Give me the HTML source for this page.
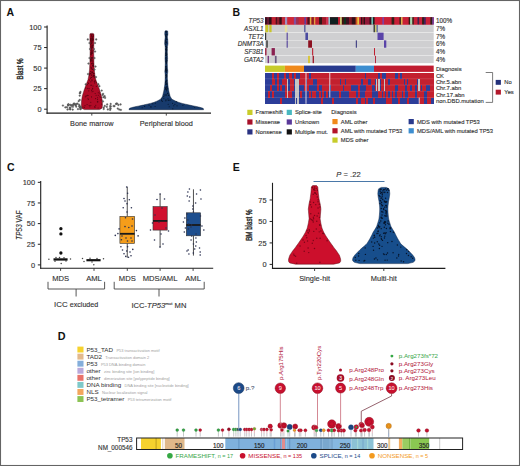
<!DOCTYPE html>
<html><head><meta charset="utf-8"><style>
html,body{margin:0;padding:0;background:#fff;}
svg{display:block;font-family:"Liberation Sans", sans-serif;}
</style></head><body>
<svg width="520" height="466" viewBox="0 0 520 466">
<rect x="0.5" y="0.5" width="519" height="465" fill="#fff" stroke="#646464" stroke-width="1.1"/>
<text x="6.60" y="15.70" font-size="10.5" text-anchor="start" fill="#111" font-weight="bold" font-style="normal" >A</text>
<line x1="47.10" y1="25.50" x2="47.10" y2="113.65" stroke="#1e1e1e" stroke-width="1.1" />
<line x1="46.55" y1="113.10" x2="211.00" y2="113.10" stroke="#1e1e1e" stroke-width="1.1" />
<line x1="44.10" y1="109.20" x2="47.10" y2="109.20" stroke="#222" stroke-width="1.0" />
<text x="41.60" y="111.80" font-size="7.4" text-anchor="end" fill="#333" font-weight="normal" font-style="normal" stroke="#333" stroke-width="0.13" >0</text>
<line x1="44.10" y1="88.65" x2="47.10" y2="88.65" stroke="#222" stroke-width="1.0" />
<text x="41.60" y="91.25" font-size="7.4" text-anchor="end" fill="#333" font-weight="normal" font-style="normal" stroke="#333" stroke-width="0.13" >25</text>
<line x1="44.10" y1="68.10" x2="47.10" y2="68.10" stroke="#222" stroke-width="1.0" />
<text x="41.60" y="70.70" font-size="7.4" text-anchor="end" fill="#333" font-weight="normal" font-style="normal" stroke="#333" stroke-width="0.13" >50</text>
<line x1="44.10" y1="47.55" x2="47.10" y2="47.55" stroke="#222" stroke-width="1.0" />
<text x="41.60" y="50.15" font-size="7.4" text-anchor="end" fill="#333" font-weight="normal" font-style="normal" stroke="#333" stroke-width="0.13" >75</text>
<line x1="44.10" y1="27.00" x2="47.10" y2="27.00" stroke="#222" stroke-width="1.0" />
<text x="41.60" y="29.60" font-size="7.4" text-anchor="end" fill="#333" font-weight="normal" font-style="normal" stroke="#333" stroke-width="0.13" >100</text>
<text x="0.00" y="0.00" font-size="8.6" text-anchor="middle" fill="#333" font-weight="normal" font-style="normal" stroke="#333" stroke-width="0.45" transform="translate(23.0,68.9) rotate(-90) scale(0.72,1)">Blast %</text>
<line x1="91.80" y1="113.10" x2="91.80" y2="115.60" stroke="#333" stroke-width="0.9" />
<text x="91.80" y="126.30" font-size="7.3" text-anchor="middle" fill="#333" font-weight="normal" font-style="normal" stroke="#333" stroke-width="0.13" >Bone marrow</text>
<line x1="166.30" y1="113.10" x2="166.30" y2="115.60" stroke="#333" stroke-width="0.9" />
<text x="166.30" y="126.30" font-size="7.3" text-anchor="middle" fill="#333" font-weight="normal" font-style="normal" stroke="#333" stroke-width="0.13" >Peripheral blood</text>
<path d="M92.90,33.40 L93.85,33.88 L93.92,34.35 L93.94,34.83 L93.97,35.30 L93.99,35.78 L93.99,36.26 L93.98,36.73 L93.97,37.21 L93.96,37.69 L93.95,38.16 L93.93,38.64 L93.92,39.11 L93.91,39.59 L93.90,40.07 L93.89,40.54 L93.87,41.02 L93.86,41.50 L93.85,41.97 L93.84,42.45 L93.83,42.92 L93.81,43.40 L93.80,43.88 L93.80,44.35 L93.79,44.83 L93.78,45.31 L93.78,45.78 L93.77,46.26 L93.77,46.73 L93.76,47.21 L93.75,47.69 L93.75,48.16 L93.74,48.64 L93.74,49.12 L93.73,49.59 L93.72,50.07 L93.72,50.55 L93.71,51.02 L93.71,51.50 L93.70,51.97 L93.71,52.45 L93.72,52.93 L93.73,53.40 L93.74,53.88 L93.75,54.35 L93.76,54.83 L93.77,55.31 L93.78,55.78 L93.79,56.26 L93.79,56.74 L93.80,57.21 L93.81,57.69 L93.82,58.16 L93.83,58.64 L93.84,59.12 L93.85,59.59 L93.86,60.07 L93.87,60.55 L93.88,61.02 L93.89,61.50 L93.90,61.97 L93.92,62.45 L93.95,62.93 L93.97,63.40 L93.99,63.88 L94.02,64.36 L94.04,64.83 L94.07,65.31 L94.09,65.78 L94.11,66.26 L94.14,66.74 L94.16,67.21 L94.18,67.69 L94.21,68.17 L94.23,68.64 L94.26,69.12 L94.28,69.59 L94.31,70.07 L94.37,70.55 L94.42,71.02 L94.48,71.50 L94.54,71.98 L94.59,72.45 L94.65,72.93 L94.71,73.41 L94.77,73.88 L94.82,74.36 L94.88,74.83 L94.96,75.31 L95.05,75.79 L95.14,76.26 L95.23,76.74 L95.32,77.21 L95.42,77.69 L95.51,78.17 L95.60,78.64 L95.69,79.12 L95.78,79.60 L95.95,80.07 L96.13,80.55 L96.32,81.02 L96.51,81.50 L96.69,81.98 L96.88,82.45 L97.06,82.93 L97.24,83.41 L97.42,83.88 L97.60,84.36 L97.78,84.83 L97.96,85.31 L98.14,85.79 L98.32,86.26 L98.50,86.74 L98.67,87.22 L98.84,87.69 L99.00,88.17 L99.16,88.64 L99.32,89.12 L99.48,89.60 L99.64,90.07 L99.81,90.55 L99.97,91.03 L100.13,91.50 L100.29,91.98 L100.45,92.45 L100.59,92.93 L100.73,93.41 L100.87,93.88 L101.01,94.36 L101.15,94.84 L101.30,95.31 L101.44,95.79 L101.54,96.26 L101.62,96.74 L101.70,97.22 L101.78,97.69 L101.85,98.17 L101.93,98.65 L102.01,99.12 L102.09,99.60 L102.17,100.07 L102.24,100.55 L102.31,101.03 L102.33,101.50 L102.35,101.98 L102.38,102.46 L102.40,102.93 L102.42,103.41 L102.45,103.88 L102.47,104.36 L102.49,104.84 L102.46,105.31 L102.41,105.79 L102.35,106.27 L102.29,106.74 L102.23,107.22 L102.07,107.69 L101.74,108.17 L101.41,108.65 L100.53,109.12 L99.40,109.60 L84.40,109.60 L83.27,109.12 L82.39,108.65 L82.06,108.17 L81.73,107.69 L81.57,107.22 L81.51,106.74 L81.45,106.27 L81.39,105.79 L81.34,105.31 L81.31,104.84 L81.33,104.36 L81.35,103.88 L81.38,103.41 L81.40,102.93 L81.42,102.46 L81.45,101.98 L81.47,101.50 L81.49,101.03 L81.56,100.55 L81.63,100.07 L81.71,99.60 L81.79,99.12 L81.87,98.65 L81.95,98.17 L82.02,97.69 L82.10,97.22 L82.18,96.74 L82.26,96.26 L82.36,95.79 L82.50,95.31 L82.65,94.84 L82.79,94.36 L82.93,93.88 L83.07,93.41 L83.21,92.93 L83.35,92.45 L83.51,91.98 L83.67,91.50 L83.83,91.03 L83.99,90.55 L84.16,90.07 L84.32,89.60 L84.48,89.12 L84.64,88.64 L84.80,88.17 L84.96,87.69 L85.13,87.22 L85.30,86.74 L85.48,86.26 L85.66,85.79 L85.84,85.31 L86.02,84.83 L86.20,84.36 L86.38,83.88 L86.56,83.41 L86.74,82.93 L86.92,82.45 L87.11,81.98 L87.29,81.50 L87.48,81.02 L87.67,80.55 L87.85,80.07 L88.02,79.60 L88.11,79.12 L88.20,78.64 L88.29,78.17 L88.38,77.69 L88.48,77.21 L88.57,76.74 L88.66,76.26 L88.75,75.79 L88.84,75.31 L88.92,74.83 L88.98,74.36 L89.03,73.88 L89.09,73.41 L89.15,72.93 L89.21,72.45 L89.26,71.98 L89.32,71.50 L89.38,71.02 L89.43,70.55 L89.49,70.07 L89.52,69.59 L89.54,69.12 L89.57,68.64 L89.59,68.17 L89.62,67.69 L89.64,67.21 L89.66,66.74 L89.69,66.26 L89.71,65.78 L89.73,65.31 L89.76,64.83 L89.78,64.36 L89.81,63.88 L89.83,63.40 L89.85,62.93 L89.88,62.45 L89.90,61.97 L89.91,61.50 L89.92,61.02 L89.93,60.55 L89.94,60.07 L89.95,59.59 L89.96,59.12 L89.97,58.64 L89.98,58.16 L89.99,57.69 L90.00,57.21 L90.01,56.74 L90.01,56.26 L90.02,55.78 L90.03,55.31 L90.04,54.83 L90.05,54.35 L90.06,53.88 L90.07,53.40 L90.08,52.93 L90.09,52.45 L90.10,51.97 L90.09,51.50 L90.09,51.02 L90.08,50.55 L90.08,50.07 L90.07,49.59 L90.06,49.12 L90.06,48.64 L90.05,48.16 L90.05,47.69 L90.04,47.21 L90.03,46.73 L90.03,46.26 L90.02,45.78 L90.02,45.31 L90.01,44.83 L90.00,44.35 L90.00,43.88 L89.99,43.40 L89.97,42.92 L89.96,42.45 L89.95,41.97 L89.94,41.50 L89.93,41.02 L89.91,40.54 L89.90,40.07 L89.89,39.59 L89.88,39.11 L89.87,38.64 L89.85,38.16 L89.84,37.69 L89.83,37.21 L89.82,36.73 L89.81,36.26 L89.81,35.78 L89.83,35.30 L89.86,34.83 L89.88,34.35 L89.95,33.88 L90.90,33.40 Z" fill="#b00a26" stroke="#3b0a12" stroke-width="0.45" stroke-linejoin="round"/>
<path d="M167.10,30.70 L167.57,31.09 L167.72,31.49 L167.75,31.88 L167.78,32.28 L167.81,32.67 L167.83,33.07 L167.86,33.46 L167.89,33.86 L167.86,34.26 L167.79,34.65 L167.73,35.05 L167.66,35.44 L167.59,35.84 L167.53,36.23 L167.46,36.62 L167.40,37.02 L167.45,37.41 L167.50,37.81 L167.54,38.20 L167.59,38.60 L167.63,38.99 L167.68,39.39 L167.73,39.78 L167.77,40.18 L167.81,40.58 L167.84,40.97 L167.86,41.36 L167.89,41.76 L167.91,42.16 L167.93,42.55 L167.96,42.95 L167.98,43.34 L167.98,43.73 L167.91,44.13 L167.84,44.52 L167.77,44.92 L167.70,45.31 L167.63,45.71 L167.56,46.10 L167.49,46.50 L167.42,46.89 L167.39,47.29 L167.39,47.69 L167.38,48.08 L167.37,48.47 L167.36,48.87 L167.35,49.27 L167.35,49.66 L167.34,50.05 L167.33,50.45 L167.32,50.84 L167.32,51.24 L167.31,51.63 L167.30,52.03 L167.32,52.42 L167.34,52.82 L167.36,53.22 L167.37,53.61 L167.39,54.00 L167.41,54.40 L167.43,54.80 L167.45,55.19 L167.46,55.59 L167.48,55.98 L167.50,56.38 L167.52,56.77 L167.53,57.16 L167.55,57.56 L167.57,57.95 L167.59,58.35 L167.59,58.75 L167.56,59.14 L167.54,59.53 L167.51,59.93 L167.48,60.33 L167.46,60.72 L167.43,61.11 L167.40,61.51 L167.37,61.91 L167.35,62.30 L167.32,62.70 L167.30,63.09 L167.32,63.48 L167.34,63.88 L167.35,64.28 L167.37,64.67 L167.38,65.06 L167.40,65.46 L167.41,65.86 L167.43,66.25 L167.45,66.64 L167.46,67.04 L167.48,67.44 L167.49,67.83 L167.52,68.22 L167.55,68.62 L167.59,69.02 L167.62,69.41 L167.65,69.80 L167.69,70.20 L167.72,70.59 L167.76,70.99 L167.79,71.39 L167.77,71.78 L167.72,72.17 L167.68,72.57 L167.63,72.97 L167.59,73.36 L167.54,73.75 L167.50,74.15 L167.45,74.55 L167.41,74.94 L167.40,75.33 L167.40,75.73 L167.40,76.12 L167.40,76.52 L167.40,76.92 L167.40,77.31 L167.40,77.70 L167.41,78.10 L167.43,78.50 L167.46,78.89 L167.48,79.28 L167.51,79.68 L167.53,80.08 L167.55,80.47 L167.58,80.86 L167.60,81.26 L167.63,81.66 L167.65,82.05 L167.68,82.44 L167.70,82.84 L167.73,83.23 L167.75,83.63 L167.78,84.03 L167.80,84.42 L167.86,84.81 L167.91,85.21 L167.97,85.61 L168.02,86.00 L168.08,86.39 L168.13,86.79 L168.19,87.19 L168.24,87.58 L168.30,87.97 L168.37,88.37 L168.44,88.77 L168.51,89.16 L168.58,89.55 L168.65,89.95 L168.72,90.34 L168.79,90.74 L168.87,91.14 L168.96,91.53 L169.05,91.92 L169.14,92.32 L169.23,92.72 L169.31,93.11 L169.40,93.50 L169.50,93.90 L169.61,94.30 L169.71,94.69 L169.81,95.09 L169.91,95.48 L170.02,95.88 L170.14,96.27 L170.36,96.67 L170.58,97.06 L170.80,97.45 L171.02,97.85 L171.31,98.25 L171.65,98.64 L171.99,99.03 L172.36,99.43 L173.10,99.83 L173.84,100.22 L174.58,100.62 L175.33,101.01 L176.31,101.41 L177.30,101.80 L178.29,102.20 L179.28,102.59 L180.74,102.98 L182.23,103.38 L183.71,103.78 L185.47,104.17 L187.24,104.56 L189.03,104.96 L190.82,105.36 L192.62,105.75 L194.52,106.14 L196.50,106.54 L198.43,106.94 L199.91,107.33 L201.37,107.73 L202.50,108.12 L203.33,108.52 L203.42,108.91 L203.51,109.31 L203.60,109.70 L129.00,109.70 L129.09,109.31 L129.18,108.91 L129.27,108.52 L130.10,108.12 L131.23,107.73 L132.69,107.33 L134.17,106.94 L136.10,106.54 L138.08,106.14 L139.98,105.75 L141.78,105.36 L143.57,104.96 L145.36,104.56 L147.13,104.17 L148.89,103.78 L150.37,103.38 L151.86,102.98 L153.32,102.59 L154.31,102.20 L155.30,101.80 L156.29,101.41 L157.28,101.01 L158.02,100.62 L158.76,100.22 L159.50,99.83 L160.24,99.43 L160.61,99.03 L160.95,98.64 L161.29,98.25 L161.58,97.85 L161.80,97.45 L162.02,97.06 L162.24,96.67 L162.46,96.27 L162.58,95.88 L162.69,95.48 L162.79,95.09 L162.89,94.69 L162.99,94.30 L163.10,93.90 L163.20,93.50 L163.29,93.11 L163.37,92.72 L163.46,92.32 L163.55,91.92 L163.64,91.53 L163.73,91.14 L163.81,90.74 L163.88,90.34 L163.95,89.95 L164.02,89.55 L164.09,89.16 L164.16,88.77 L164.23,88.37 L164.30,87.97 L164.36,87.58 L164.41,87.19 L164.47,86.79 L164.52,86.39 L164.58,86.00 L164.63,85.61 L164.69,85.21 L164.74,84.81 L164.80,84.42 L164.82,84.03 L164.85,83.63 L164.87,83.23 L164.90,82.84 L164.92,82.44 L164.95,82.05 L164.97,81.66 L165.00,81.26 L165.02,80.86 L165.05,80.47 L165.07,80.08 L165.09,79.68 L165.12,79.28 L165.14,78.89 L165.17,78.50 L165.19,78.10 L165.20,77.70 L165.20,77.31 L165.20,76.92 L165.20,76.52 L165.20,76.12 L165.20,75.73 L165.20,75.33 L165.19,74.94 L165.15,74.55 L165.10,74.15 L165.06,73.75 L165.01,73.36 L164.97,72.97 L164.92,72.57 L164.88,72.17 L164.83,71.78 L164.81,71.39 L164.84,70.99 L164.88,70.59 L164.91,70.20 L164.95,69.80 L164.98,69.41 L165.01,69.02 L165.05,68.62 L165.08,68.22 L165.11,67.83 L165.12,67.44 L165.14,67.04 L165.15,66.64 L165.17,66.25 L165.19,65.86 L165.20,65.46 L165.22,65.06 L165.23,64.67 L165.25,64.28 L165.26,63.88 L165.28,63.48 L165.30,63.09 L165.28,62.70 L165.25,62.30 L165.23,61.91 L165.20,61.51 L165.17,61.11 L165.14,60.72 L165.12,60.33 L165.09,59.93 L165.06,59.53 L165.04,59.14 L165.01,58.75 L165.01,58.35 L165.03,57.95 L165.05,57.56 L165.07,57.16 L165.08,56.77 L165.10,56.38 L165.12,55.98 L165.14,55.59 L165.16,55.19 L165.17,54.80 L165.19,54.40 L165.21,54.00 L165.23,53.61 L165.24,53.22 L165.26,52.82 L165.28,52.42 L165.30,52.03 L165.29,51.63 L165.28,51.24 L165.28,50.84 L165.27,50.45 L165.26,50.05 L165.25,49.66 L165.25,49.27 L165.24,48.87 L165.23,48.47 L165.22,48.08 L165.21,47.69 L165.21,47.29 L165.18,46.89 L165.11,46.50 L165.04,46.10 L164.97,45.71 L164.90,45.31 L164.83,44.92 L164.76,44.52 L164.69,44.13 L164.62,43.73 L164.62,43.34 L164.64,42.95 L164.67,42.55 L164.69,42.16 L164.72,41.76 L164.74,41.36 L164.76,40.97 L164.79,40.58 L164.83,40.18 L164.87,39.78 L164.92,39.39 L164.97,38.99 L165.01,38.60 L165.06,38.20 L165.10,37.81 L165.15,37.41 L165.20,37.02 L165.14,36.62 L165.07,36.23 L165.01,35.84 L164.94,35.44 L164.87,35.05 L164.81,34.65 L164.74,34.26 L164.71,33.86 L164.74,33.46 L164.77,33.07 L164.79,32.67 L164.82,32.28 L164.85,31.88 L164.88,31.49 L165.03,31.09 L165.50,30.70 Z" fill="#173a6c" stroke="#081a34" stroke-width="0.45" stroke-linejoin="round"/>
<circle cx="90.97" cy="58.36" r="0.55" fill="#560512" />
<circle cx="88.05" cy="82.76" r="0.55" fill="#560512" />
<circle cx="91.28" cy="74.18" r="0.55" fill="#560512" />
<circle cx="91.92" cy="38.53" r="0.55" fill="#560512" />
<circle cx="91.70" cy="37.00" r="0.55" fill="#560512" />
<circle cx="90.74" cy="39.41" r="0.55" fill="#560512" />
<circle cx="92.94" cy="65.87" r="0.55" fill="#560512" />
<circle cx="91.17" cy="43.44" r="0.55" fill="#560512" />
<circle cx="95.31" cy="81.01" r="0.55" fill="#560512" />
<circle cx="91.31" cy="77.25" r="0.55" fill="#560512" />
<circle cx="83.05" cy="107.03" r="0.55" fill="#560512" />
<circle cx="87.96" cy="98.24" r="0.55" fill="#560512" />
<circle cx="90.92" cy="44.96" r="0.55" fill="#560512" />
<circle cx="92.72" cy="57.21" r="0.55" fill="#560512" />
<circle cx="92.10" cy="47.68" r="0.55" fill="#560512" />
<circle cx="90.84" cy="81.86" r="0.55" fill="#560512" />
<circle cx="89.79" cy="75.06" r="0.55" fill="#560512" />
<circle cx="91.06" cy="38.65" r="0.55" fill="#560512" />
<circle cx="91.13" cy="84.96" r="0.55" fill="#560512" />
<circle cx="92.12" cy="57.64" r="0.55" fill="#560512" />
<circle cx="91.22" cy="68.01" r="0.55" fill="#560512" />
<circle cx="95.18" cy="93.46" r="0.55" fill="#560512" />
<circle cx="92.08" cy="52.41" r="0.55" fill="#560512" />
<circle cx="93.55" cy="73.38" r="0.55" fill="#560512" />
<circle cx="89.08" cy="88.62" r="0.55" fill="#560512" />
<circle cx="84.47" cy="107.32" r="0.55" fill="#560512" />
<circle cx="92.71" cy="65.39" r="0.55" fill="#560512" />
<circle cx="91.87" cy="45.54" r="0.55" fill="#560512" />
<circle cx="92.40" cy="37.12" r="0.55" fill="#560512" />
<circle cx="93.00" cy="91.24" r="0.55" fill="#560512" />
<circle cx="88.33" cy="99.51" r="0.55" fill="#560512" />
<circle cx="92.98" cy="86.07" r="0.55" fill="#560512" />
<circle cx="91.65" cy="77.46" r="0.55" fill="#560512" />
<circle cx="100.03" cy="96.86" r="0.55" fill="#560512" />
<circle cx="92.48" cy="69.57" r="0.55" fill="#560512" />
<circle cx="92.48" cy="38.73" r="0.55" fill="#560512" />
<circle cx="96.23" cy="82.48" r="0.55" fill="#560512" />
<circle cx="88.08" cy="95.52" r="0.55" fill="#560512" />
<circle cx="92.39" cy="62.98" r="0.55" fill="#560512" />
<circle cx="91.79" cy="35.88" r="0.55" fill="#560512" />
<circle cx="90.93" cy="46.74" r="0.55" fill="#560512" />
<circle cx="92.67" cy="38.60" r="0.55" fill="#560512" />
<circle cx="91.24" cy="43.85" r="0.55" fill="#560512" />
<circle cx="92.99" cy="63.36" r="0.55" fill="#560512" />
<circle cx="91.76" cy="40.21" r="0.55" fill="#560512" />
<circle cx="93.77" cy="75.19" r="0.55" fill="#560512" />
<circle cx="98.30" cy="95.32" r="0.55" fill="#560512" />
<circle cx="91.69" cy="54.97" r="0.55" fill="#560512" />
<circle cx="92.96" cy="60.96" r="0.55" fill="#560512" />
<circle cx="84.97" cy="105.65" r="0.55" fill="#560512" />
<circle cx="91.23" cy="47.35" r="0.55" fill="#560512" />
<circle cx="91.86" cy="51.61" r="0.55" fill="#560512" />
<circle cx="90.48" cy="78.15" r="0.55" fill="#560512" />
<circle cx="91.67" cy="34.51" r="0.55" fill="#560512" />
<circle cx="92.09" cy="61.75" r="0.55" fill="#560512" />
<circle cx="95.70" cy="105.30" r="0.55" fill="#560512" />
<circle cx="92.40" cy="72.66" r="0.55" fill="#560512" />
<circle cx="87.25" cy="84.64" r="0.55" fill="#560512" />
<circle cx="97.40" cy="101.31" r="0.55" fill="#560512" />
<circle cx="97.60" cy="99.44" r="0.55" fill="#560512" />
<circle cx="91.60" cy="63.47" r="0.55" fill="#560512" />
<circle cx="92.26" cy="41.92" r="0.55" fill="#560512" />
<circle cx="90.66" cy="38.84" r="0.55" fill="#560512" />
<circle cx="91.07" cy="49.77" r="0.55" fill="#560512" />
<circle cx="90.69" cy="59.57" r="0.55" fill="#560512" />
<circle cx="90.91" cy="34.22" r="0.55" fill="#560512" />
<circle cx="91.53" cy="41.77" r="0.55" fill="#560512" />
<circle cx="93.02" cy="36.10" r="0.55" fill="#560512" />
<circle cx="89.49" cy="80.01" r="0.55" fill="#560512" />
<circle cx="91.53" cy="53.02" r="0.55" fill="#560512" />
<circle cx="90.85" cy="61.37" r="0.55" fill="#560512" />
<circle cx="101.02" cy="97.53" r="0.55" fill="#560512" />
<circle cx="91.84" cy="68.96" r="0.55" fill="#560512" />
<circle cx="90.80" cy="40.61" r="0.55" fill="#560512" />
<circle cx="91.26" cy="59.76" r="0.55" fill="#560512" />
<circle cx="85.80" cy="96.03" r="0.55" fill="#560512" />
<circle cx="93.25" cy="35.92" r="0.55" fill="#560512" />
<circle cx="90.32" cy="73.61" r="0.55" fill="#560512" />
<circle cx="89.66" cy="74.72" r="0.55" fill="#560512" />
<circle cx="94.04" cy="73.60" r="0.55" fill="#560512" />
<circle cx="95.60" cy="98.60" r="0.55" fill="#560512" />
<circle cx="91.57" cy="53.68" r="0.55" fill="#560512" />
<circle cx="92.59" cy="46.66" r="0.55" fill="#560512" />
<circle cx="93.17" cy="73.93" r="0.55" fill="#560512" />
<circle cx="91.16" cy="58.79" r="0.55" fill="#560512" />
<circle cx="100.27" cy="94.74" r="0.55" fill="#560512" />
<circle cx="97.59" cy="97.81" r="0.55" fill="#560512" />
<circle cx="96.11" cy="95.25" r="0.55" fill="#560512" />
<circle cx="91.94" cy="51.11" r="0.55" fill="#560512" />
<circle cx="90.61" cy="60.72" r="0.55" fill="#560512" />
<circle cx="91.24" cy="36.28" r="0.55" fill="#560512" />
<circle cx="92.37" cy="53.53" r="0.55" fill="#560512" />
<circle cx="90.85" cy="105.56" r="0.55" fill="#560512" />
<circle cx="101.62" cy="104.10" r="0.55" fill="#560512" />
<circle cx="89.21" cy="105.44" r="0.55" fill="#560512" />
<circle cx="91.24" cy="50.65" r="0.55" fill="#560512" />
<circle cx="91.17" cy="48.87" r="0.55" fill="#560512" />
<circle cx="94.87" cy="80.76" r="0.55" fill="#560512" />
<circle cx="91.52" cy="96.90" r="0.55" fill="#560512" />
<circle cx="94.63" cy="82.91" r="0.55" fill="#560512" />
<circle cx="92.35" cy="40.52" r="0.55" fill="#560512" />
<circle cx="97.47" cy="102.07" r="0.55" fill="#560512" />
<circle cx="91.58" cy="90.16" r="0.55" fill="#560512" />
<circle cx="92.63" cy="47.52" r="0.55" fill="#560512" />
<circle cx="92.71" cy="59.01" r="0.55" fill="#560512" />
<circle cx="89.86" cy="106.69" r="0.55" fill="#560512" />
<circle cx="93.25" cy="64.14" r="0.55" fill="#560512" />
<circle cx="87.59" cy="88.27" r="0.55" fill="#560512" />
<circle cx="90.99" cy="43.68" r="0.55" fill="#560512" />
<circle cx="97.93" cy="101.70" r="0.55" fill="#560512" />
<circle cx="92.74" cy="45.10" r="0.55" fill="#560512" />
<circle cx="94.96" cy="107.33" r="0.55" fill="#560512" />
<circle cx="92.03" cy="60.34" r="0.55" fill="#560512" />
<circle cx="90.64" cy="43.97" r="0.55" fill="#560512" />
<circle cx="94.83" cy="106.63" r="0.55" fill="#560512" />
<circle cx="93.82" cy="73.48" r="0.55" fill="#560512" />
<circle cx="93.11" cy="66.56" r="0.55" fill="#560512" />
<circle cx="86.73" cy="95.83" r="0.55" fill="#560512" />
<circle cx="91.39" cy="52.99" r="0.55" fill="#560512" />
<circle cx="92.11" cy="52.14" r="0.55" fill="#560512" />
<circle cx="91.70" cy="53.55" r="0.55" fill="#560512" />
<circle cx="92.97" cy="43.98" r="0.55" fill="#560512" />
<circle cx="91.79" cy="60.59" r="0.55" fill="#560512" />
<circle cx="94.26" cy="77.72" r="0.55" fill="#560512" />
<circle cx="93.22" cy="65.58" r="0.55" fill="#560512" />
<circle cx="92.03" cy="71.62" r="0.55" fill="#560512" />
<circle cx="89.79" cy="73.25" r="0.55" fill="#560512" />
<circle cx="90.85" cy="67.03" r="0.55" fill="#560512" />
<circle cx="92.75" cy="34.49" r="0.55" fill="#560512" />
<circle cx="91.83" cy="47.06" r="0.55" fill="#560512" />
<circle cx="92.64" cy="88.30" r="0.55" fill="#560512" />
<circle cx="91.95" cy="58.52" r="0.55" fill="#560512" />
<circle cx="93.33" cy="75.64" r="0.55" fill="#560512" />
<circle cx="92.06" cy="42.12" r="0.55" fill="#560512" />
<circle cx="91.36" cy="52.74" r="0.55" fill="#560512" />
<circle cx="92.02" cy="91.81" r="0.55" fill="#560512" />
<circle cx="93.26" cy="76.11" r="0.55" fill="#560512" />
<circle cx="90.78" cy="102.27" r="0.55" fill="#560512" />
<circle cx="91.94" cy="79.89" r="0.55" fill="#560512" />
<circle cx="92.71" cy="72.41" r="0.55" fill="#560512" />
<circle cx="92.01" cy="67.94" r="0.55" fill="#560512" />
<circle cx="93.48" cy="69.86" r="0.55" fill="#560512" />
<circle cx="96.31" cy="86.36" r="0.55" fill="#560512" />
<circle cx="87.10" cy="104.49" r="0.55" fill="#560512" />
<circle cx="94.19" cy="75.94" r="0.55" fill="#560512" />
<circle cx="85.27" cy="96.86" r="0.55" fill="#560512" />
<circle cx="91.75" cy="43.27" r="0.55" fill="#560512" />
<circle cx="91.17" cy="39.61" r="0.55" fill="#560512" />
<circle cx="92.38" cy="39.65" r="0.55" fill="#560512" />
<circle cx="98.26" cy="92.68" r="0.55" fill="#560512" />
<circle cx="92.45" cy="45.72" r="0.55" fill="#560512" />
<circle cx="88.50" cy="83.46" r="0.55" fill="#560512" />
<circle cx="100.94" cy="100.06" r="0.55" fill="#560512" />
<circle cx="93.00" cy="50.58" r="0.55" fill="#560512" />
<circle cx="91.86" cy="63.91" r="0.55" fill="#560512" />
<circle cx="98.10" cy="108.04" r="0.55" fill="#560512" />
<circle cx="91.73" cy="46.25" r="0.55" fill="#560512" />
<circle cx="91.22" cy="72.66" r="0.55" fill="#560512" />
<circle cx="91.45" cy="48.80" r="0.55" fill="#560512" />
<circle cx="85.69" cy="88.07" r="0.55" fill="#560512" />
<circle cx="91.60" cy="75.53" r="0.55" fill="#560512" />
<circle cx="91.40" cy="35.55" r="0.55" fill="#560512" />
<circle cx="91.99" cy="80.74" r="0.55" fill="#560512" />
<circle cx="93.28" cy="39.00" r="0.55" fill="#560512" />
<circle cx="99.55" cy="93.01" r="0.55" fill="#560512" />
<circle cx="91.27" cy="42.02" r="0.55" fill="#560512" />
<circle cx="92.72" cy="37.15" r="0.55" fill="#560512" />
<circle cx="90.98" cy="54.38" r="0.55" fill="#560512" />
<circle cx="93.20" cy="65.70" r="0.55" fill="#560512" />
<circle cx="87.66" cy="95.30" r="0.55" fill="#560512" />
<circle cx="92.98" cy="45.34" r="0.55" fill="#560512" />
<circle cx="93.00" cy="76.77" r="0.55" fill="#560512" />
<circle cx="90.68" cy="40.87" r="0.55" fill="#560512" />
<circle cx="91.07" cy="85.54" r="0.55" fill="#560512" />
<circle cx="93.14" cy="39.60" r="0.55" fill="#560512" />
<circle cx="94.32" cy="81.53" r="0.55" fill="#560512" />
<circle cx="92.89" cy="40.45" r="0.55" fill="#560512" />
<circle cx="92.93" cy="39.17" r="0.55" fill="#560512" />
<circle cx="91.35" cy="68.05" r="0.55" fill="#560512" />
<circle cx="94.02" cy="75.46" r="0.55" fill="#560512" />
<circle cx="90.98" cy="54.18" r="0.55" fill="#560512" />
<circle cx="90.74" cy="73.51" r="0.55" fill="#560512" />
<circle cx="90.99" cy="42.37" r="0.55" fill="#560512" />
<circle cx="91.03" cy="37.96" r="0.55" fill="#560512" />
<circle cx="91.39" cy="57.47" r="0.55" fill="#560512" />
<circle cx="88.79" cy="90.86" r="0.55" fill="#560512" />
<circle cx="90.62" cy="71.51" r="0.55" fill="#560512" />
<circle cx="90.59" cy="60.09" r="0.55" fill="#560512" />
<circle cx="90.72" cy="52.88" r="0.55" fill="#560512" />
<circle cx="92.59" cy="88.89" r="0.55" fill="#560512" />
<circle cx="166.27" cy="46.16" r="0.55" fill="#06162c" />
<circle cx="152.85" cy="103.84" r="0.55" fill="#06162c" />
<circle cx="165.91" cy="94.88" r="0.55" fill="#06162c" />
<circle cx="166.81" cy="69.81" r="0.55" fill="#06162c" />
<circle cx="166.31" cy="61.92" r="0.55" fill="#06162c" />
<circle cx="167.21" cy="84.73" r="0.55" fill="#06162c" />
<circle cx="166.75" cy="58.03" r="0.55" fill="#06162c" />
<circle cx="166.61" cy="86.20" r="0.55" fill="#06162c" />
<circle cx="166.17" cy="62.82" r="0.55" fill="#06162c" />
<circle cx="165.77" cy="35.71" r="0.55" fill="#06162c" />
<circle cx="166.54" cy="36.97" r="0.55" fill="#06162c" />
<circle cx="166.02" cy="51.28" r="0.55" fill="#06162c" />
<circle cx="166.72" cy="38.04" r="0.55" fill="#06162c" />
<circle cx="167.99" cy="98.88" r="0.55" fill="#06162c" />
<circle cx="166.06" cy="53.32" r="0.55" fill="#06162c" />
<circle cx="166.26" cy="54.18" r="0.55" fill="#06162c" />
<circle cx="166.18" cy="43.69" r="0.55" fill="#06162c" />
<circle cx="166.67" cy="51.88" r="0.55" fill="#06162c" />
<circle cx="169.20" cy="106.78" r="0.55" fill="#06162c" />
<circle cx="166.70" cy="50.42" r="0.55" fill="#06162c" />
<circle cx="166.14" cy="55.46" r="0.55" fill="#06162c" />
<circle cx="166.10" cy="31.58" r="0.55" fill="#06162c" />
<circle cx="166.30" cy="68.24" r="0.55" fill="#06162c" />
<circle cx="166.30" cy="47.06" r="0.55" fill="#06162c" />
<circle cx="165.90" cy="31.88" r="0.55" fill="#06162c" />
<circle cx="166.17" cy="38.45" r="0.55" fill="#06162c" />
<circle cx="165.46" cy="34.73" r="0.55" fill="#06162c" />
<circle cx="166.01" cy="55.05" r="0.55" fill="#06162c" />
<circle cx="166.33" cy="76.82" r="0.55" fill="#06162c" />
<circle cx="166.83" cy="89.59" r="0.55" fill="#06162c" />
<circle cx="167.25" cy="86.92" r="0.55" fill="#06162c" />
<circle cx="166.13" cy="61.65" r="0.55" fill="#06162c" />
<circle cx="142.15" cy="107.72" r="0.55" fill="#06162c" />
<circle cx="166.68" cy="87.55" r="0.55" fill="#06162c" />
<circle cx="166.87" cy="34.89" r="0.55" fill="#06162c" />
<circle cx="168.22" cy="100.54" r="0.55" fill="#06162c" />
<circle cx="167.21" cy="88.30" r="0.55" fill="#06162c" />
<circle cx="166.35" cy="42.28" r="0.55" fill="#06162c" />
<circle cx="166.85" cy="70.54" r="0.55" fill="#06162c" />
<circle cx="167.98" cy="93.78" r="0.55" fill="#06162c" />
<circle cx="166.69" cy="76.71" r="0.55" fill="#06162c" />
<circle cx="166.65" cy="84.36" r="0.55" fill="#06162c" />
<circle cx="165.87" cy="49.30" r="0.55" fill="#06162c" />
<circle cx="166.02" cy="41.80" r="0.55" fill="#06162c" />
<circle cx="166.84" cy="39.62" r="0.55" fill="#06162c" />
<circle cx="166.44" cy="74.73" r="0.55" fill="#06162c" />
<circle cx="166.53" cy="79.97" r="0.55" fill="#06162c" />
<circle cx="165.59" cy="69.37" r="0.55" fill="#06162c" />
<circle cx="167.51" cy="93.24" r="0.55" fill="#06162c" />
<circle cx="166.36" cy="70.43" r="0.55" fill="#06162c" />
<circle cx="165.62" cy="82.53" r="0.55" fill="#06162c" />
<circle cx="165.56" cy="88.53" r="0.55" fill="#06162c" />
<circle cx="166.05" cy="37.26" r="0.55" fill="#06162c" />
<circle cx="165.48" cy="87.95" r="0.55" fill="#06162c" />
<circle cx="167.76" cy="88.76" r="0.55" fill="#06162c" />
<circle cx="166.12" cy="69.73" r="0.55" fill="#06162c" />
<circle cx="166.54" cy="68.58" r="0.55" fill="#06162c" />
<circle cx="166.75" cy="90.86" r="0.55" fill="#06162c" />
<circle cx="165.71" cy="81.25" r="0.55" fill="#06162c" />
<circle cx="165.78" cy="42.91" r="0.55" fill="#06162c" />
<circle cx="165.68" cy="89.03" r="0.55" fill="#06162c" />
<circle cx="165.81" cy="75.44" r="0.55" fill="#06162c" />
<circle cx="166.01" cy="36.20" r="0.55" fill="#06162c" />
<circle cx="166.62" cy="83.51" r="0.55" fill="#06162c" />
<circle cx="165.94" cy="83.80" r="0.55" fill="#06162c" />
<circle cx="166.24" cy="71.48" r="0.55" fill="#06162c" />
<circle cx="165.85" cy="67.59" r="0.55" fill="#06162c" />
<circle cx="161.62" cy="100.67" r="0.55" fill="#06162c" />
<circle cx="194.70" cy="107.21" r="0.55" fill="#06162c" />
<circle cx="166.22" cy="32.85" r="0.55" fill="#06162c" />
<circle cx="168.99" cy="94.96" r="0.55" fill="#06162c" />
<circle cx="166.05" cy="66.29" r="0.55" fill="#06162c" />
<circle cx="166.73" cy="47.74" r="0.55" fill="#06162c" />
<circle cx="166.38" cy="47.81" r="0.55" fill="#06162c" />
<circle cx="166.35" cy="42.47" r="0.55" fill="#06162c" />
<circle cx="149.10" cy="105.24" r="0.55" fill="#06162c" />
<circle cx="166.35" cy="94.98" r="0.55" fill="#06162c" />
<circle cx="169.06" cy="100.14" r="0.55" fill="#06162c" />
<circle cx="166.66" cy="49.41" r="0.55" fill="#06162c" />
<circle cx="165.64" cy="69.13" r="0.55" fill="#06162c" />
<circle cx="166.29" cy="31.78" r="0.55" fill="#06162c" />
<circle cx="166.09" cy="66.39" r="0.55" fill="#06162c" />
<circle cx="165.98" cy="42.39" r="0.55" fill="#06162c" />
<circle cx="166.69" cy="55.96" r="0.55" fill="#06162c" />
<circle cx="166.72" cy="31.63" r="0.55" fill="#06162c" />
<circle cx="163.76" cy="96.45" r="0.55" fill="#06162c" />
<circle cx="172.55" cy="103.20" r="0.55" fill="#06162c" />
<circle cx="162.47" cy="101.28" r="0.55" fill="#06162c" />
<circle cx="166.18" cy="60.31" r="0.55" fill="#06162c" />
<circle cx="172.81" cy="108.81" r="0.55" fill="#06162c" />
<circle cx="166.21" cy="59.42" r="0.55" fill="#06162c" />
<circle cx="165.91" cy="52.80" r="0.55" fill="#06162c" />
<circle cx="166.82" cy="39.37" r="0.55" fill="#06162c" />
<circle cx="166.71" cy="53.61" r="0.55" fill="#06162c" />
<circle cx="166.10" cy="50.80" r="0.55" fill="#06162c" />
<circle cx="165.77" cy="71.05" r="0.55" fill="#06162c" />
<circle cx="166.83" cy="60.40" r="0.55" fill="#06162c" />
<circle cx="170.30" cy="99.94" r="0.55" fill="#06162c" />
<circle cx="166.83" cy="80.33" r="0.55" fill="#06162c" />
<circle cx="168.19" cy="104.31" r="0.55" fill="#06162c" />
<circle cx="165.14" cy="87.19" r="0.55" fill="#06162c" />
<circle cx="166.16" cy="88.18" r="0.55" fill="#06162c" />
<circle cx="166.80" cy="89.76" r="0.55" fill="#06162c" />
<circle cx="165.87" cy="53.65" r="0.55" fill="#06162c" />
<circle cx="155.29" cy="103.23" r="0.55" fill="#06162c" />
<circle cx="166.11" cy="68.05" r="0.55" fill="#06162c" />
<circle cx="166.55" cy="54.55" r="0.55" fill="#06162c" />
<circle cx="150.94" cy="107.07" r="0.55" fill="#06162c" />
<circle cx="165.99" cy="82.27" r="0.55" fill="#06162c" />
<circle cx="166.19" cy="74.64" r="0.55" fill="#06162c" />
<circle cx="165.66" cy="44.45" r="0.55" fill="#06162c" />
<circle cx="166.70" cy="47.59" r="0.55" fill="#06162c" />
<circle cx="165.87" cy="69.97" r="0.55" fill="#06162c" />
<circle cx="176.24" cy="101.64" r="0.55" fill="#06162c" />
<circle cx="165.92" cy="66.33" r="0.55" fill="#06162c" />
<circle cx="165.80" cy="46.39" r="0.55" fill="#06162c" />
<circle cx="165.75" cy="57.97" r="0.55" fill="#06162c" />
<circle cx="166.09" cy="50.01" r="0.55" fill="#06162c" />
<circle cx="166.69" cy="75.59" r="0.55" fill="#06162c" />
<circle cx="166.01" cy="89.52" r="0.55" fill="#06162c" />
<circle cx="166.32" cy="63.53" r="0.55" fill="#06162c" />
<circle cx="166.12" cy="60.67" r="0.55" fill="#06162c" />
<circle cx="166.03" cy="36.30" r="0.55" fill="#06162c" />
<circle cx="144.68" cy="106.40" r="0.55" fill="#06162c" />
<circle cx="166.51" cy="70.46" r="0.55" fill="#06162c" />
<circle cx="163.78" cy="98.29" r="0.55" fill="#06162c" />
<circle cx="166.09" cy="52.48" r="0.55" fill="#06162c" />
<circle cx="166.25" cy="62.44" r="0.55" fill="#06162c" />
<circle cx="182.92" cy="105.34" r="0.55" fill="#06162c" />
<circle cx="161.41" cy="99.06" r="0.55" fill="#06162c" />
<circle cx="166.72" cy="34.00" r="0.55" fill="#06162c" />
<circle cx="165.87" cy="100.83" r="0.55" fill="#06162c" />
<circle cx="165.80" cy="76.95" r="0.55" fill="#06162c" />
<circle cx="166.71" cy="61.80" r="0.55" fill="#06162c" />
<circle cx="168.43" cy="95.40" r="0.55" fill="#06162c" />
<circle cx="150.88" cy="106.75" r="0.55" fill="#06162c" />
<circle cx="165.72" cy="39.94" r="0.55" fill="#06162c" />
<circle cx="166.61" cy="71.93" r="0.55" fill="#06162c" />
<circle cx="174.93" cy="104.37" r="0.55" fill="#06162c" />
<circle cx="166.68" cy="81.60" r="0.55" fill="#06162c" />
<circle cx="166.36" cy="66.90" r="0.55" fill="#06162c" />
<circle cx="166.81" cy="34.56" r="0.55" fill="#06162c" />
<circle cx="166.68" cy="49.50" r="0.55" fill="#06162c" />
<circle cx="166.02" cy="81.46" r="0.55" fill="#06162c" />
<circle cx="165.82" cy="41.40" r="0.55" fill="#06162c" />
<circle cx="166.57" cy="80.75" r="0.55" fill="#06162c" />
<circle cx="165.55" cy="40.18" r="0.55" fill="#06162c" />
<circle cx="166.44" cy="72.09" r="0.55" fill="#06162c" />
<circle cx="166.02" cy="61.54" r="0.55" fill="#06162c" />
<circle cx="165.81" cy="78.02" r="0.55" fill="#06162c" />
<circle cx="166.26" cy="54.84" r="0.55" fill="#06162c" />
<circle cx="173.70" cy="105.72" r="0.55" fill="#06162c" />
<circle cx="165.99" cy="99.90" r="0.55" fill="#06162c" />
<circle cx="166.07" cy="49.67" r="0.55" fill="#06162c" />
<circle cx="177.02" cy="105.85" r="0.55" fill="#06162c" />
<circle cx="165.77" cy="55.29" r="0.55" fill="#06162c" />
<circle cx="166.57" cy="70.07" r="0.55" fill="#06162c" />
<circle cx="166.09" cy="64.01" r="0.55" fill="#06162c" />
<circle cx="167.00" cy="83.15" r="0.55" fill="#06162c" />
<circle cx="165.87" cy="49.05" r="0.55" fill="#06162c" />
<circle cx="166.20" cy="57.67" r="0.55" fill="#06162c" />
<circle cx="165.76" cy="84.33" r="0.55" fill="#06162c" />
<circle cx="167.46" cy="93.19" r="0.55" fill="#06162c" />
<circle cx="165.82" cy="70.58" r="0.55" fill="#06162c" />
<circle cx="155.10" cy="106.57" r="0.55" fill="#06162c" />
<circle cx="164.75" cy="94.97" r="0.55" fill="#06162c" />
<circle cx="166.54" cy="48.64" r="0.55" fill="#06162c" />
<circle cx="166.76" cy="54.33" r="0.55" fill="#06162c" />
<circle cx="165.82" cy="69.87" r="0.55" fill="#06162c" />
<circle cx="166.22" cy="48.79" r="0.55" fill="#06162c" />
<circle cx="110.76" cy="106.44" r="0.85" fill="#6a6a6a" stroke="#3a3a3a" stroke-width="0.3"/>
<circle cx="77.98" cy="109.06" r="0.85" fill="#6a6a6a" stroke="#3a3a3a" stroke-width="0.3"/>
<circle cx="79.66" cy="106.83" r="0.85" fill="#6a6a6a" stroke="#3a3a3a" stroke-width="0.3"/>
<circle cx="71.43" cy="105.47" r="0.85" fill="#6a6a6a" stroke="#3a3a3a" stroke-width="0.3"/>
<circle cx="70.38" cy="109.29" r="0.85" fill="#6a6a6a" stroke="#3a3a3a" stroke-width="0.3"/>
<circle cx="114.50" cy="106.08" r="0.85" fill="#6a6a6a" stroke="#3a3a3a" stroke-width="0.3"/>
<circle cx="69.87" cy="107.50" r="0.85" fill="#6a6a6a" stroke="#3a3a3a" stroke-width="0.3"/>
<circle cx="80.30" cy="108.91" r="0.85" fill="#6a6a6a" stroke="#3a3a3a" stroke-width="0.3"/>
<circle cx="70.31" cy="104.74" r="0.85" fill="#6a6a6a" stroke="#3a3a3a" stroke-width="0.3"/>
<circle cx="110.55" cy="108.56" r="0.85" fill="#6a6a6a" stroke="#3a3a3a" stroke-width="0.3"/>
<circle cx="69.55" cy="108.98" r="0.85" fill="#6a6a6a" stroke="#3a3a3a" stroke-width="0.3"/>
<circle cx="72.94" cy="106.75" r="0.85" fill="#6a6a6a" stroke="#3a3a3a" stroke-width="0.3"/>
<circle cx="68.31" cy="105.31" r="0.85" fill="#6a6a6a" stroke="#3a3a3a" stroke-width="0.3"/>
<circle cx="71.91" cy="105.55" r="0.85" fill="#6a6a6a" stroke="#3a3a3a" stroke-width="0.3"/>
<circle cx="73.99" cy="103.69" r="0.85" fill="#6a6a6a" stroke="#3a3a3a" stroke-width="0.3"/>
<circle cx="103.64" cy="109.00" r="0.85" fill="#6a6a6a" stroke="#3a3a3a" stroke-width="0.3"/>
<circle cx="77.45" cy="103.61" r="0.85" fill="#6a6a6a" stroke="#3a3a3a" stroke-width="0.3"/>
<circle cx="72.71" cy="109.53" r="0.85" fill="#6a6a6a" stroke="#3a3a3a" stroke-width="0.3"/>
<circle cx="110.17" cy="109.87" r="0.85" fill="#6a6a6a" stroke="#3a3a3a" stroke-width="0.3"/>
<circle cx="67.00" cy="107.18" r="0.85" fill="#6a6a6a" stroke="#3a3a3a" stroke-width="0.3"/>
<circle cx="75.64" cy="105.25" r="0.85" fill="#6a6a6a" stroke="#3a3a3a" stroke-width="0.3"/>
<circle cx="116.42" cy="103.60" r="0.85" fill="#6a6a6a" stroke="#3a3a3a" stroke-width="0.3"/>
<circle cx="68.32" cy="104.27" r="0.85" fill="#6a6a6a" stroke="#3a3a3a" stroke-width="0.3"/>
<circle cx="117.14" cy="103.57" r="0.85" fill="#6a6a6a" stroke="#3a3a3a" stroke-width="0.3"/>
<circle cx="73.12" cy="104.65" r="0.85" fill="#6a6a6a" stroke="#3a3a3a" stroke-width="0.3"/>
<circle cx="73.64" cy="104.74" r="0.85" fill="#6a6a6a" stroke="#3a3a3a" stroke-width="0.3"/>
<circle cx="110.18" cy="105.99" r="0.85" fill="#6a6a6a" stroke="#3a3a3a" stroke-width="0.3"/>
<circle cx="118.39" cy="104.88" r="0.85" fill="#6a6a6a" stroke="#3a3a3a" stroke-width="0.3"/>
<circle cx="120.86" cy="109.84" r="0.85" fill="#6a6a6a" stroke="#3a3a3a" stroke-width="0.3"/>
<circle cx="74.11" cy="103.63" r="0.85" fill="#6a6a6a" stroke="#3a3a3a" stroke-width="0.3"/>
<circle cx="80.62" cy="109.05" r="0.85" fill="#6a6a6a" stroke="#3a3a3a" stroke-width="0.3"/>
<circle cx="107.18" cy="104.45" r="0.85" fill="#6a6a6a" stroke="#3a3a3a" stroke-width="0.3"/>
<circle cx="117.76" cy="108.52" r="0.85" fill="#6a6a6a" stroke="#3a3a3a" stroke-width="0.3"/>
<circle cx="79.73" cy="106.01" r="0.85" fill="#6a6a6a" stroke="#3a3a3a" stroke-width="0.3"/>
<circle cx="81.11" cy="107.29" r="0.85" fill="#6a6a6a" stroke="#3a3a3a" stroke-width="0.3"/>
<circle cx="104.75" cy="105.90" r="0.85" fill="#6a6a6a" stroke="#3a3a3a" stroke-width="0.3"/>
<circle cx="65.37" cy="107.32" r="0.85" fill="#6a6a6a" stroke="#3a3a3a" stroke-width="0.3"/>
<circle cx="75.65" cy="104.69" r="0.85" fill="#6a6a6a" stroke="#3a3a3a" stroke-width="0.3"/>
<circle cx="67.98" cy="104.98" r="0.85" fill="#6a6a6a" stroke="#3a3a3a" stroke-width="0.3"/>
<circle cx="68.69" cy="104.53" r="0.85" fill="#6a6a6a" stroke="#3a3a3a" stroke-width="0.3"/>
<circle cx="113.57" cy="106.02" r="0.85" fill="#6a6a6a" stroke="#3a3a3a" stroke-width="0.3"/>
<circle cx="79.38" cy="106.24" r="0.85" fill="#6a6a6a" stroke="#3a3a3a" stroke-width="0.3"/>
<circle cx="106.81" cy="106.83" r="0.85" fill="#6a6a6a" stroke="#3a3a3a" stroke-width="0.3"/>
<circle cx="110.19" cy="108.08" r="0.85" fill="#6a6a6a" stroke="#3a3a3a" stroke-width="0.3"/>
<circle cx="107.83" cy="109.38" r="0.85" fill="#6a6a6a" stroke="#3a3a3a" stroke-width="0.3"/>
<circle cx="79.06" cy="104.64" r="0.85" fill="#6a6a6a" stroke="#3a3a3a" stroke-width="0.3"/>
<circle cx="76.22" cy="106.62" r="0.85" fill="#6a6a6a" stroke="#3a3a3a" stroke-width="0.3"/>
<circle cx="67.54" cy="109.46" r="0.85" fill="#6a6a6a" stroke="#3a3a3a" stroke-width="0.3"/>
<circle cx="110.65" cy="103.95" r="0.85" fill="#6a6a6a" stroke="#3a3a3a" stroke-width="0.3"/>
<circle cx="76.18" cy="103.89" r="0.85" fill="#6a6a6a" stroke="#3a3a3a" stroke-width="0.3"/>
<circle cx="79.69" cy="106.95" r="0.85" fill="#6a6a6a" stroke="#3a3a3a" stroke-width="0.3"/>
<circle cx="120.54" cy="104.40" r="0.85" fill="#6a6a6a" stroke="#3a3a3a" stroke-width="0.3"/>
<circle cx="70.49" cy="107.77" r="0.85" fill="#6a6a6a" stroke="#3a3a3a" stroke-width="0.3"/>
<circle cx="119.24" cy="109.50" r="0.85" fill="#6a6a6a" stroke="#3a3a3a" stroke-width="0.3"/>
<circle cx="81.01" cy="108.06" r="0.85" fill="#6a6a6a" stroke="#3a3a3a" stroke-width="0.3"/>
<circle cx="103.64" cy="107.64" r="0.85" fill="#6a6a6a" stroke="#3a3a3a" stroke-width="0.3"/>
<circle cx="62.91" cy="105.52" r="0.85" fill="#6a6a6a" stroke="#3a3a3a" stroke-width="0.3"/>
<circle cx="116.03" cy="103.99" r="0.85" fill="#6a6a6a" stroke="#3a3a3a" stroke-width="0.3"/>
<circle cx="78.65" cy="101.10" r="0.85" fill="#6a6a6a" stroke="#3a3a3a" stroke-width="0.3"/>
<circle cx="102.90" cy="101.39" r="0.85" fill="#6a6a6a" stroke="#3a3a3a" stroke-width="0.3"/>
<circle cx="80.11" cy="92.99" r="0.85" fill="#6a6a6a" stroke="#3a3a3a" stroke-width="0.3"/>
<circle cx="80.46" cy="91.93" r="0.85" fill="#6a6a6a" stroke="#3a3a3a" stroke-width="0.3"/>
<circle cx="102.68" cy="94.88" r="0.85" fill="#6a6a6a" stroke="#3a3a3a" stroke-width="0.3"/>
<circle cx="85.69" cy="84.24" r="0.85" fill="#6a6a6a" stroke="#3a3a3a" stroke-width="0.3"/>
<circle cx="104.64" cy="96.15" r="0.85" fill="#6a6a6a" stroke="#3a3a3a" stroke-width="0.3"/>
<circle cx="105.09" cy="97.84" r="0.85" fill="#6a6a6a" stroke="#3a3a3a" stroke-width="0.3"/>
<circle cx="103.40" cy="97.19" r="0.85" fill="#6a6a6a" stroke="#3a3a3a" stroke-width="0.3"/>
<circle cx="79.70" cy="99.93" r="0.85" fill="#6a6a6a" stroke="#3a3a3a" stroke-width="0.3"/>
<circle cx="103.06" cy="93.78" r="0.85" fill="#6a6a6a" stroke="#3a3a3a" stroke-width="0.3"/>
<circle cx="79.79" cy="93.14" r="0.85" fill="#6a6a6a" stroke="#3a3a3a" stroke-width="0.3"/>
<circle cx="99.40" cy="86.14" r="0.85" fill="#6a6a6a" stroke="#3a3a3a" stroke-width="0.3"/>
<circle cx="98.31" cy="84.21" r="0.85" fill="#6a6a6a" stroke="#3a3a3a" stroke-width="0.3"/>
<circle cx="79.70" cy="95.62" r="0.85" fill="#6a6a6a" stroke="#3a3a3a" stroke-width="0.3"/>
<circle cx="101.69" cy="90.51" r="0.85" fill="#6a6a6a" stroke="#3a3a3a" stroke-width="0.3"/>
<circle cx="87.80" cy="39.40" r="0.85" fill="#6a6a6a" stroke="#3a3a3a" stroke-width="0.3"/>
<circle cx="96.20" cy="39.40" r="0.85" fill="#6a6a6a" stroke="#3a3a3a" stroke-width="0.3"/>
<circle cx="89.50" cy="43.00" r="0.85" fill="#6a6a6a" stroke="#3a3a3a" stroke-width="0.3"/>
<circle cx="95.00" cy="43.00" r="0.85" fill="#6a6a6a" stroke="#3a3a3a" stroke-width="0.3"/>
<circle cx="90.00" cy="49.00" r="0.85" fill="#6a6a6a" stroke="#3a3a3a" stroke-width="0.3"/>
<circle cx="94.00" cy="49.00" r="0.85" fill="#6a6a6a" stroke="#3a3a3a" stroke-width="0.3"/>
<circle cx="95.00" cy="51.50" r="0.85" fill="#6a6a6a" stroke="#3a3a3a" stroke-width="0.3"/>
<circle cx="89.50" cy="58.00" r="0.85" fill="#6a6a6a" stroke="#3a3a3a" stroke-width="0.3"/>
<circle cx="94.50" cy="58.00" r="0.85" fill="#6a6a6a" stroke="#3a3a3a" stroke-width="0.3"/>
<circle cx="88.50" cy="63.50" r="0.85" fill="#6a6a6a" stroke="#3a3a3a" stroke-width="0.3"/>
<circle cx="95.50" cy="66.50" r="0.85" fill="#6a6a6a" stroke="#3a3a3a" stroke-width="0.3"/>
<circle cx="94.50" cy="69.50" r="0.85" fill="#6a6a6a" stroke="#3a3a3a" stroke-width="0.3"/>
<circle cx="88.00" cy="74.00" r="0.85" fill="#6a6a6a" stroke="#3a3a3a" stroke-width="0.3"/>
<circle cx="96.00" cy="77.00" r="0.85" fill="#6a6a6a" stroke="#3a3a3a" stroke-width="0.3"/>
<text x="232.60" y="15.70" font-size="10.5" text-anchor="start" fill="#111" font-weight="bold" font-style="normal" >B</text>
<text x="263.60" y="23.07" font-size="6.3" text-anchor="end" fill="#333" font-weight="normal" font-style="italic" stroke="#333" stroke-width="0.13" >TP53</text>
<text x="435.90" y="23.07" font-size="6.3" text-anchor="start" fill="#333" font-weight="normal" font-style="normal" stroke="#333" stroke-width="0.13" >100%</text>
<rect x="265.00" y="24.92" width="168.70" height="7.35" fill="#cfcfd1" />
<text x="263.60" y="30.79" font-size="6.3" text-anchor="end" fill="#333" font-weight="normal" font-style="italic" stroke="#333" stroke-width="0.13" >ASXL1</text>
<text x="435.90" y="30.79" font-size="6.3" text-anchor="start" fill="#333" font-weight="normal" font-style="normal" stroke="#333" stroke-width="0.13" >7%</text>
<rect x="265.00" y="32.64" width="168.70" height="7.35" fill="#cfcfd1" />
<text x="263.60" y="38.52" font-size="6.3" text-anchor="end" fill="#333" font-weight="normal" font-style="italic" stroke="#333" stroke-width="0.13" >TET2</text>
<text x="435.90" y="38.52" font-size="6.3" text-anchor="start" fill="#333" font-weight="normal" font-style="normal" stroke="#333" stroke-width="0.13" >7%</text>
<rect x="265.00" y="40.36" width="168.70" height="7.35" fill="#cfcfd1" />
<text x="263.60" y="46.23" font-size="6.3" text-anchor="end" fill="#333" font-weight="normal" font-style="italic" stroke="#333" stroke-width="0.13" >DNMT3A</text>
<text x="435.90" y="46.23" font-size="6.3" text-anchor="start" fill="#333" font-weight="normal" font-style="normal" stroke="#333" stroke-width="0.13" >6%</text>
<rect x="265.00" y="48.08" width="168.70" height="7.35" fill="#cfcfd1" />
<text x="263.60" y="53.95" font-size="6.3" text-anchor="end" fill="#333" font-weight="normal" font-style="italic" stroke="#333" stroke-width="0.13" >SF3B1</text>
<text x="435.90" y="53.95" font-size="6.3" text-anchor="start" fill="#333" font-weight="normal" font-style="normal" stroke="#333" stroke-width="0.13" >4%</text>
<rect x="265.00" y="55.80" width="168.70" height="7.35" fill="#cfcfd1" />
<text x="263.60" y="61.67" font-size="6.3" text-anchor="end" fill="#333" font-weight="normal" font-style="italic" stroke="#333" stroke-width="0.13" >GATA2</text>
<text x="435.90" y="61.67" font-size="6.3" text-anchor="start" fill="#333" font-weight="normal" font-style="normal" stroke="#333" stroke-width="0.13" >4%</text>
<rect x="265.00" y="17.20" width="168.70" height="7.35" fill="#c02030" />
<rect x="265.00" y="17.20" width="2.72" height="7.35" fill="#3a1020" />
<rect x="267.60" y="17.20" width="1.32" height="7.35" fill="#6a2040" />
<rect x="268.80" y="17.20" width="3.02" height="7.35" fill="#2a1018" />
<rect x="271.70" y="17.20" width="4.12" height="7.35" fill="#c02030" />
<rect x="275.70" y="17.20" width="1.72" height="7.35" fill="#501020" />
<rect x="277.30" y="17.20" width="2.12" height="7.35" fill="#902030" />
<rect x="279.30" y="17.20" width="2.62" height="7.35" fill="#301018" />
<rect x="281.80" y="17.20" width="3.32" height="7.35" fill="#c02838" />
<rect x="285.00" y="17.20" width="2.52" height="7.35" fill="#a090c0" />
<rect x="287.40" y="17.20" width="6.62" height="7.35" fill="#d02838" />
<rect x="293.90" y="17.20" width="2.52" height="7.35" fill="#8050a0" />
<rect x="296.30" y="17.20" width="2.52" height="7.35" fill="#a03050" />
<rect x="298.70" y="17.20" width="5.82" height="7.35" fill="#c82838" />
<rect x="304.40" y="17.20" width="1.72" height="7.35" fill="#6040a0" />
<rect x="306.00" y="17.20" width="1.52" height="7.35" fill="#c02040" />
<rect x="307.40" y="17.20" width="2.52" height="7.35" fill="#501020" />
<rect x="309.80" y="17.20" width="1.82" height="7.35" fill="#e0b040" />
<rect x="311.50" y="17.20" width="2.52" height="7.35" fill="#901828" />
<rect x="313.90" y="17.20" width="1.72" height="7.35" fill="#e0a040" />
<rect x="315.50" y="17.20" width="3.72" height="7.35" fill="#c02030" />
<rect x="319.10" y="17.20" width="3.02" height="7.35" fill="#301818" />
<rect x="322.00" y="17.20" width="4.12" height="7.35" fill="#a01828" />
<rect x="326.00" y="17.20" width="2.52" height="7.35" fill="#d03050" />
<rect x="328.40" y="17.20" width="1.72" height="7.35" fill="#90c0d0" />
<rect x="330.00" y="17.20" width="8.22" height="7.35" fill="#102020" />
<rect x="338.10" y="17.20" width="2.12" height="7.35" fill="#c02030" />
<rect x="340.10" y="17.20" width="1.82" height="7.35" fill="#d0e080" />
<rect x="341.80" y="17.20" width="2.12" height="7.35" fill="#401010" />
<rect x="343.80" y="17.20" width="2.32" height="7.35" fill="#103020" />
<rect x="346.00" y="17.20" width="3.32" height="7.35" fill="#3a1020" />
<rect x="349.20" y="17.20" width="2.62" height="7.35" fill="#801828" />
<rect x="351.70" y="17.20" width="4.12" height="7.35" fill="#301018" />
<rect x="355.70" y="17.20" width="1.72" height="7.35" fill="#d05020" />
<rect x="357.30" y="17.20" width="2.12" height="7.35" fill="#e8c840" />
<rect x="359.30" y="17.20" width="1.72" height="7.35" fill="#c02040" />
<rect x="360.90" y="17.20" width="1.72" height="7.35" fill="#301018" />
<rect x="362.50" y="17.20" width="1.12" height="7.35" fill="#902030" />
<rect x="363.50" y="17.20" width="1.62" height="7.35" fill="#301018" />
<rect x="365.00" y="17.20" width="4.52" height="7.35" fill="#901838" />
<rect x="369.40" y="17.20" width="2.12" height="7.35" fill="#301020" />
<rect x="371.40" y="17.20" width="1.72" height="7.35" fill="#60c0b0" />
<rect x="373.00" y="17.20" width="1.82" height="7.35" fill="#202020" />
<rect x="374.70" y="17.20" width="7.72" height="7.35" fill="#d02038" />
<rect x="382.30" y="17.20" width="1.82" height="7.35" fill="#8040a0" />
<rect x="384.00" y="17.20" width="7.72" height="7.35" fill="#c82038" />
<rect x="391.60" y="17.20" width="2.92" height="7.35" fill="#302018" />
<rect x="394.40" y="17.20" width="5.22" height="7.35" fill="#c82038" />
<rect x="399.50" y="17.20" width="1.52" height="7.35" fill="#302018" />
<rect x="400.90" y="17.20" width="1.92" height="7.35" fill="#e0b050" />
<rect x="402.70" y="17.20" width="6.12" height="7.35" fill="#c82038" />
<rect x="408.70" y="17.20" width="1.52" height="7.35" fill="#302018" />
<rect x="410.10" y="17.20" width="2.42" height="7.35" fill="#a0d8b0" />
<rect x="412.40" y="17.20" width="1.52" height="7.35" fill="#302018" />
<rect x="413.80" y="17.20" width="3.82" height="7.35" fill="#c82038" />
<rect x="417.50" y="17.20" width="1.92" height="7.35" fill="#402050" />
<rect x="419.30" y="17.20" width="2.92" height="7.35" fill="#c82038" />
<rect x="422.10" y="17.20" width="1.92" height="7.35" fill="#302018" />
<rect x="423.90" y="17.20" width="2.02" height="7.35" fill="#402060" />
<rect x="425.80" y="17.20" width="4.72" height="7.35" fill="#c82038" />
<rect x="430.40" y="17.20" width="1.92" height="7.35" fill="#302018" />
<rect x="432.20" y="17.20" width="1.62" height="7.35" fill="#7040a0" />
<rect x="265.30" y="24.92" width="2.90" height="7.35" fill="#c9c52a" />
<rect x="269.30" y="24.92" width="2.30" height="7.35" fill="#c9c52a" />
<rect x="284.90" y="24.92" width="2.30" height="7.35" fill="#e6dfa0" />
<rect x="304.30" y="24.92" width="1.10" height="7.35" fill="#3a3f90" />
<rect x="373.60" y="24.92" width="1.20" height="7.35" fill="#222" />
<rect x="375.40" y="24.92" width="1.10" height="7.35" fill="#c9c52a" />
<rect x="376.60" y="24.92" width="1.10" height="7.35" fill="#4a55a0" />
<rect x="265.00" y="32.64" width="1.20" height="7.35" fill="#333" />
<rect x="286.60" y="32.64" width="1.20" height="7.35" fill="#5b4a9e" />
<rect x="305.40" y="32.64" width="2.60" height="7.35" fill="#4a4aa0" />
<rect x="377.50" y="32.64" width="6.10" height="7.35" fill="#5a44a8" />
<rect x="266.20" y="40.36" width="1.60" height="7.35" fill="#444" />
<rect x="286.60" y="40.36" width="1.20" height="7.35" fill="#5b4a9e" />
<rect x="308.20" y="40.36" width="3.80" height="7.35" fill="#8c1020" />
<rect x="355.80" y="40.36" width="1.10" height="7.35" fill="#3a3a80" />
<rect x="384.00" y="40.36" width="2.30" height="7.35" fill="#5a44a8" />
<rect x="265.10" y="48.08" width="1.40" height="7.35" fill="#9a2040" />
<rect x="271.60" y="48.08" width="3.30" height="7.35" fill="#8a2050" />
<rect x="312.00" y="48.08" width="1.20" height="7.35" fill="#c03040" />
<rect x="374.00" y="48.08" width="1.00" height="7.35" fill="#c02030" />
<rect x="267.60" y="55.80" width="1.40" height="7.35" fill="#7a3a80" />
<rect x="274.90" y="55.80" width="1.70" height="7.35" fill="#6a5a80" />
<rect x="308.00" y="55.80" width="2.00" height="7.35" fill="#d8c640" />
<rect x="312.60" y="55.80" width="1.40" height="7.35" fill="#a02030" />
<rect x="375.10" y="55.80" width="0.90" height="7.35" fill="#b01830" />
<rect x="265.00" y="65.60" width="19.90" height="6.30" fill="#c7cc2a" />
<rect x="284.90" y="65.60" width="19.10" height="6.30" fill="#f08a1c" />
<rect x="304.00" y="65.60" width="51.80" height="6.30" fill="#283a8e" />
<rect x="355.80" y="65.60" width="18.20" height="6.30" fill="#3d8ed0" />
<rect x="374.00" y="65.60" width="59.70" height="6.30" fill="#c01c30" />
<text x="435.90" y="70.80" font-size="5.85" text-anchor="start" fill="#333" font-weight="normal" font-style="normal" stroke="#333" stroke-width="0.13" >Diagnosis</text>
<g shape-rendering="crispEdges">
<rect x="265.00" y="72.50" width="168.70" height="6.36" fill="#2c3d99" />
<rect x="265.00" y="78.76" width="168.70" height="6.36" fill="#2c3d99" />
<rect x="265.00" y="85.02" width="168.70" height="6.36" fill="#2c3d99" />
<rect x="265.00" y="91.28" width="168.70" height="6.36" fill="#2c3d99" />
<rect x="265.00" y="97.54" width="168.70" height="6.36" fill="#2c3d99" />
<rect x="268.37" y="91.28" width="1.99" height="6.36" fill="#c3202f" />
<rect x="270.06" y="85.02" width="1.99" height="6.36" fill="#c3202f" />
<rect x="271.75" y="72.50" width="1.99" height="6.36" fill="#c3202f" />
<rect x="271.75" y="78.76" width="1.99" height="6.36" fill="#c3202f" />
<rect x="271.75" y="91.28" width="1.99" height="6.36" fill="#c3202f" />
<rect x="273.44" y="78.76" width="1.99" height="6.36" fill="#c3202f" />
<rect x="276.81" y="72.50" width="1.99" height="6.36" fill="#c3202f" />
<rect x="276.81" y="78.76" width="1.99" height="6.36" fill="#c3202f" />
<rect x="276.81" y="85.02" width="1.99" height="6.36" fill="#c3202f" />
<rect x="280.18" y="85.02" width="1.99" height="6.36" fill="#c3202f" />
<rect x="280.18" y="97.54" width="1.99" height="6.36" fill="#c3202f" />
<rect x="281.87" y="78.76" width="1.99" height="6.36" fill="#c3202f" />
<rect x="283.56" y="72.50" width="1.99" height="6.36" fill="#c3202f" />
<rect x="283.56" y="78.76" width="1.99" height="6.36" fill="#c3202f" />
<rect x="285.24" y="78.76" width="1.99" height="6.36" fill="#c3202f" />
<rect x="285.24" y="85.02" width="1.99" height="6.36" fill="#c3202f" />
<rect x="285.24" y="91.28" width="1.99" height="6.36" fill="#c3202f" />
<rect x="286.93" y="91.28" width="1.99" height="6.36" fill="#c3202f" />
<rect x="288.62" y="72.50" width="1.99" height="6.36" fill="#c3202f" />
<rect x="288.62" y="91.28" width="1.99" height="6.36" fill="#c3202f" />
<rect x="290.31" y="72.50" width="1.99" height="6.36" fill="#c3202f" />
<rect x="290.31" y="78.76" width="1.99" height="6.36" fill="#c3202f" />
<rect x="290.31" y="85.02" width="1.99" height="6.36" fill="#c3202f" />
<rect x="290.31" y="91.28" width="1.99" height="6.36" fill="#c3202f" />
<rect x="291.99" y="78.76" width="1.99" height="6.36" fill="#c3202f" />
<rect x="291.99" y="85.02" width="1.99" height="6.36" fill="#c3202f" />
<rect x="293.68" y="72.50" width="1.99" height="6.36" fill="#c3202f" />
<rect x="295.37" y="78.76" width="1.99" height="6.36" fill="#c3202f" />
<rect x="297.05" y="91.28" width="1.99" height="6.36" fill="#c3202f" />
<rect x="298.74" y="78.76" width="1.99" height="6.36" fill="#c3202f" />
<rect x="300.43" y="72.50" width="1.99" height="6.36" fill="#c3202f" />
<rect x="300.43" y="78.76" width="1.99" height="6.36" fill="#c3202f" />
<rect x="300.43" y="91.28" width="1.99" height="6.36" fill="#c3202f" />
<rect x="302.11" y="72.50" width="1.99" height="6.36" fill="#c3202f" />
<rect x="302.11" y="78.76" width="1.99" height="6.36" fill="#c3202f" />
<rect x="303.80" y="72.50" width="1.99" height="6.36" fill="#c3202f" />
<rect x="303.80" y="78.76" width="1.99" height="6.36" fill="#c3202f" />
<rect x="303.80" y="85.02" width="1.99" height="6.36" fill="#c3202f" />
<rect x="305.49" y="72.50" width="1.99" height="6.36" fill="#c3202f" />
<rect x="307.18" y="72.50" width="1.99" height="6.36" fill="#c3202f" />
<rect x="307.18" y="78.76" width="1.99" height="6.36" fill="#c3202f" />
<rect x="307.18" y="85.02" width="1.99" height="6.36" fill="#c3202f" />
<rect x="308.86" y="78.76" width="1.99" height="6.36" fill="#c3202f" />
<rect x="308.86" y="91.28" width="1.99" height="6.36" fill="#c3202f" />
<rect x="310.55" y="72.50" width="1.99" height="6.36" fill="#c3202f" />
<rect x="310.55" y="78.76" width="1.99" height="6.36" fill="#c3202f" />
<rect x="312.24" y="72.50" width="1.99" height="6.36" fill="#c3202f" />
<rect x="312.24" y="91.28" width="1.99" height="6.36" fill="#c3202f" />
<rect x="313.92" y="72.50" width="1.99" height="6.36" fill="#c3202f" />
<rect x="313.92" y="91.28" width="1.99" height="6.36" fill="#c3202f" />
<rect x="315.61" y="72.50" width="1.99" height="6.36" fill="#c3202f" />
<rect x="317.30" y="72.50" width="1.99" height="6.36" fill="#c3202f" />
<rect x="317.30" y="78.76" width="1.99" height="6.36" fill="#c3202f" />
<rect x="317.30" y="85.02" width="1.99" height="6.36" fill="#c3202f" />
<rect x="318.98" y="72.50" width="1.99" height="6.36" fill="#c3202f" />
<rect x="318.98" y="78.76" width="1.99" height="6.36" fill="#c3202f" />
<rect x="318.98" y="91.28" width="1.99" height="6.36" fill="#c3202f" />
<rect x="320.67" y="72.50" width="1.99" height="6.36" fill="#c3202f" />
<rect x="320.67" y="78.76" width="1.99" height="6.36" fill="#c3202f" />
<rect x="320.67" y="97.54" width="1.99" height="6.36" fill="#c3202f" />
<rect x="322.36" y="72.50" width="1.99" height="6.36" fill="#c3202f" />
<rect x="322.36" y="78.76" width="1.99" height="6.36" fill="#c3202f" />
<rect x="322.36" y="85.02" width="1.99" height="6.36" fill="#c3202f" />
<rect x="322.36" y="91.28" width="1.99" height="6.36" fill="#c3202f" />
<rect x="324.05" y="72.50" width="1.99" height="6.36" fill="#c3202f" />
<rect x="324.05" y="78.76" width="1.99" height="6.36" fill="#c3202f" />
<rect x="324.05" y="85.02" width="1.99" height="6.36" fill="#c3202f" />
<rect x="325.73" y="72.50" width="1.99" height="6.36" fill="#c3202f" />
<rect x="325.73" y="78.76" width="1.99" height="6.36" fill="#c3202f" />
<rect x="325.73" y="85.02" width="1.99" height="6.36" fill="#c3202f" />
<rect x="325.73" y="91.28" width="1.99" height="6.36" fill="#c3202f" />
<rect x="327.42" y="72.50" width="1.99" height="6.36" fill="#c3202f" />
<rect x="327.42" y="78.76" width="1.99" height="6.36" fill="#c3202f" />
<rect x="327.42" y="85.02" width="1.99" height="6.36" fill="#c3202f" />
<rect x="329.11" y="72.50" width="1.99" height="6.36" fill="#c3202f" />
<rect x="329.11" y="78.76" width="1.99" height="6.36" fill="#c3202f" />
<rect x="330.79" y="72.50" width="1.99" height="6.36" fill="#c3202f" />
<rect x="330.79" y="78.76" width="1.99" height="6.36" fill="#c3202f" />
<rect x="330.79" y="85.02" width="1.99" height="6.36" fill="#c3202f" />
<rect x="332.48" y="72.50" width="1.99" height="6.36" fill="#c3202f" />
<rect x="332.48" y="78.76" width="1.99" height="6.36" fill="#c3202f" />
<rect x="332.48" y="85.02" width="1.99" height="6.36" fill="#c3202f" />
<rect x="332.48" y="97.54" width="1.99" height="6.36" fill="#c3202f" />
<rect x="334.17" y="72.50" width="1.99" height="6.36" fill="#c3202f" />
<rect x="334.17" y="78.76" width="1.99" height="6.36" fill="#c3202f" />
<rect x="334.17" y="85.02" width="1.99" height="6.36" fill="#c3202f" />
<rect x="335.85" y="72.50" width="1.99" height="6.36" fill="#c3202f" />
<rect x="335.85" y="78.76" width="1.99" height="6.36" fill="#c3202f" />
<rect x="335.85" y="85.02" width="1.99" height="6.36" fill="#c3202f" />
<rect x="337.54" y="72.50" width="1.99" height="6.36" fill="#c3202f" />
<rect x="337.54" y="78.76" width="1.99" height="6.36" fill="#c3202f" />
<rect x="337.54" y="85.02" width="1.99" height="6.36" fill="#c3202f" />
<rect x="339.23" y="72.50" width="1.99" height="6.36" fill="#c3202f" />
<rect x="339.23" y="85.02" width="1.99" height="6.36" fill="#c3202f" />
<rect x="339.23" y="91.28" width="1.99" height="6.36" fill="#c3202f" />
<rect x="340.91" y="72.50" width="1.99" height="6.36" fill="#c3202f" />
<rect x="340.91" y="78.76" width="1.99" height="6.36" fill="#c3202f" />
<rect x="340.91" y="85.02" width="1.99" height="6.36" fill="#c3202f" />
<rect x="342.60" y="72.50" width="1.99" height="6.36" fill="#c3202f" />
<rect x="342.60" y="78.76" width="1.99" height="6.36" fill="#c3202f" />
<rect x="344.29" y="72.50" width="1.99" height="6.36" fill="#c3202f" />
<rect x="344.29" y="85.02" width="1.99" height="6.36" fill="#c3202f" />
<rect x="345.98" y="72.50" width="1.99" height="6.36" fill="#c3202f" />
<rect x="345.98" y="78.76" width="1.99" height="6.36" fill="#c3202f" />
<rect x="345.98" y="85.02" width="1.99" height="6.36" fill="#c3202f" />
<rect x="347.66" y="72.50" width="1.99" height="6.36" fill="#c3202f" />
<rect x="347.66" y="78.76" width="1.99" height="6.36" fill="#c3202f" />
<rect x="347.66" y="85.02" width="1.99" height="6.36" fill="#c3202f" />
<rect x="349.35" y="72.50" width="1.99" height="6.36" fill="#c3202f" />
<rect x="349.35" y="78.76" width="1.99" height="6.36" fill="#c3202f" />
<rect x="349.35" y="85.02" width="1.99" height="6.36" fill="#c3202f" />
<rect x="349.35" y="91.28" width="1.99" height="6.36" fill="#c3202f" />
<rect x="351.04" y="72.50" width="1.99" height="6.36" fill="#c3202f" />
<rect x="351.04" y="78.76" width="1.99" height="6.36" fill="#c3202f" />
<rect x="351.04" y="91.28" width="1.99" height="6.36" fill="#c3202f" />
<rect x="352.72" y="72.50" width="1.99" height="6.36" fill="#c3202f" />
<rect x="352.72" y="78.76" width="1.99" height="6.36" fill="#c3202f" />
<rect x="352.72" y="91.28" width="1.99" height="6.36" fill="#c3202f" />
<rect x="354.41" y="72.50" width="1.99" height="6.36" fill="#c3202f" />
<rect x="354.41" y="78.76" width="1.99" height="6.36" fill="#c3202f" />
<rect x="354.41" y="91.28" width="1.99" height="6.36" fill="#c3202f" />
<rect x="356.10" y="72.50" width="1.99" height="6.36" fill="#c3202f" />
<rect x="356.10" y="78.76" width="1.99" height="6.36" fill="#c3202f" />
<rect x="356.10" y="97.54" width="1.99" height="6.36" fill="#c3202f" />
<rect x="357.78" y="72.50" width="1.99" height="6.36" fill="#c3202f" />
<rect x="357.78" y="78.76" width="1.99" height="6.36" fill="#c3202f" />
<rect x="357.78" y="85.02" width="1.99" height="6.36" fill="#c3202f" />
<rect x="357.78" y="91.28" width="1.99" height="6.36" fill="#c3202f" />
<rect x="359.47" y="72.50" width="1.99" height="6.36" fill="#c3202f" />
<rect x="359.47" y="78.76" width="1.99" height="6.36" fill="#c3202f" />
<rect x="361.16" y="72.50" width="1.99" height="6.36" fill="#c3202f" />
<rect x="361.16" y="97.54" width="1.99" height="6.36" fill="#c3202f" />
<rect x="362.85" y="72.50" width="1.99" height="6.36" fill="#c3202f" />
<rect x="362.85" y="78.76" width="1.99" height="6.36" fill="#c3202f" />
<rect x="362.85" y="97.54" width="1.99" height="6.36" fill="#c3202f" />
<rect x="364.53" y="78.76" width="1.99" height="6.36" fill="#c3202f" />
<rect x="364.53" y="91.28" width="1.99" height="6.36" fill="#c3202f" />
<rect x="366.22" y="72.50" width="1.99" height="6.36" fill="#c3202f" />
<rect x="366.22" y="78.76" width="1.99" height="6.36" fill="#c3202f" />
<rect x="366.22" y="85.02" width="1.99" height="6.36" fill="#c3202f" />
<rect x="366.22" y="91.28" width="1.99" height="6.36" fill="#c3202f" />
<rect x="366.22" y="97.54" width="1.99" height="6.36" fill="#c3202f" />
<rect x="367.91" y="72.50" width="1.99" height="6.36" fill="#c3202f" />
<rect x="367.91" y="85.02" width="1.99" height="6.36" fill="#c3202f" />
<rect x="367.91" y="91.28" width="1.99" height="6.36" fill="#c3202f" />
<rect x="369.59" y="72.50" width="1.99" height="6.36" fill="#c3202f" />
<rect x="369.59" y="85.02" width="1.99" height="6.36" fill="#c3202f" />
<rect x="369.59" y="91.28" width="1.99" height="6.36" fill="#c3202f" />
<rect x="371.28" y="72.50" width="1.99" height="6.36" fill="#c3202f" />
<rect x="371.28" y="78.76" width="1.99" height="6.36" fill="#c3202f" />
<rect x="372.97" y="72.50" width="1.99" height="6.36" fill="#c3202f" />
<rect x="372.97" y="78.76" width="1.99" height="6.36" fill="#c3202f" />
<rect x="372.97" y="97.54" width="1.99" height="6.36" fill="#c3202f" />
<rect x="374.65" y="72.50" width="1.99" height="6.36" fill="#c3202f" />
<rect x="374.65" y="85.02" width="1.99" height="6.36" fill="#c3202f" />
<rect x="376.34" y="72.50" width="1.99" height="6.36" fill="#c3202f" />
<rect x="376.34" y="78.76" width="1.99" height="6.36" fill="#c3202f" />
<rect x="376.34" y="85.02" width="1.99" height="6.36" fill="#c3202f" />
<rect x="378.03" y="78.76" width="1.99" height="6.36" fill="#c3202f" />
<rect x="378.03" y="91.28" width="1.99" height="6.36" fill="#c3202f" />
<rect x="379.72" y="72.50" width="1.99" height="6.36" fill="#c3202f" />
<rect x="379.72" y="91.28" width="1.99" height="6.36" fill="#c3202f" />
<rect x="381.40" y="78.76" width="1.99" height="6.36" fill="#c3202f" />
<rect x="381.40" y="85.02" width="1.99" height="6.36" fill="#c3202f" />
<rect x="383.09" y="78.76" width="1.99" height="6.36" fill="#c3202f" />
<rect x="383.09" y="85.02" width="1.99" height="6.36" fill="#c3202f" />
<rect x="383.09" y="91.28" width="1.99" height="6.36" fill="#c3202f" />
<rect x="384.78" y="78.76" width="1.99" height="6.36" fill="#c3202f" />
<rect x="384.78" y="85.02" width="1.99" height="6.36" fill="#c3202f" />
<rect x="386.46" y="72.50" width="1.99" height="6.36" fill="#c3202f" />
<rect x="386.46" y="78.76" width="1.99" height="6.36" fill="#c3202f" />
<rect x="386.46" y="85.02" width="1.99" height="6.36" fill="#c3202f" />
<rect x="386.46" y="91.28" width="1.99" height="6.36" fill="#c3202f" />
<rect x="386.46" y="97.54" width="1.99" height="6.36" fill="#c3202f" />
<rect x="388.15" y="72.50" width="1.99" height="6.36" fill="#c3202f" />
<rect x="388.15" y="85.02" width="1.99" height="6.36" fill="#c3202f" />
<rect x="388.15" y="97.54" width="1.99" height="6.36" fill="#c3202f" />
<rect x="389.84" y="72.50" width="1.99" height="6.36" fill="#c3202f" />
<rect x="389.84" y="78.76" width="1.99" height="6.36" fill="#c3202f" />
<rect x="389.84" y="85.02" width="1.99" height="6.36" fill="#c3202f" />
<rect x="389.84" y="91.28" width="1.99" height="6.36" fill="#c3202f" />
<rect x="389.84" y="97.54" width="1.99" height="6.36" fill="#c3202f" />
<rect x="391.52" y="72.50" width="1.99" height="6.36" fill="#c3202f" />
<rect x="391.52" y="78.76" width="1.99" height="6.36" fill="#c3202f" />
<rect x="391.52" y="85.02" width="1.99" height="6.36" fill="#c3202f" />
<rect x="393.21" y="72.50" width="1.99" height="6.36" fill="#c3202f" />
<rect x="393.21" y="78.76" width="1.99" height="6.36" fill="#c3202f" />
<rect x="393.21" y="85.02" width="1.99" height="6.36" fill="#c3202f" />
<rect x="393.21" y="91.28" width="1.99" height="6.36" fill="#c3202f" />
<rect x="394.90" y="78.76" width="1.99" height="6.36" fill="#c3202f" />
<rect x="396.59" y="78.76" width="1.99" height="6.36" fill="#c3202f" />
<rect x="396.59" y="91.28" width="1.99" height="6.36" fill="#c3202f" />
<rect x="398.27" y="72.50" width="1.99" height="6.36" fill="#c3202f" />
<rect x="398.27" y="78.76" width="1.99" height="6.36" fill="#c3202f" />
<rect x="398.27" y="85.02" width="1.99" height="6.36" fill="#c3202f" />
<rect x="398.27" y="91.28" width="1.99" height="6.36" fill="#c3202f" />
<rect x="398.27" y="97.54" width="1.99" height="6.36" fill="#c3202f" />
<rect x="399.96" y="78.76" width="1.99" height="6.36" fill="#c3202f" />
<rect x="399.96" y="85.02" width="1.99" height="6.36" fill="#c3202f" />
<rect x="399.96" y="91.28" width="1.99" height="6.36" fill="#c3202f" />
<rect x="401.65" y="72.50" width="1.99" height="6.36" fill="#c3202f" />
<rect x="401.65" y="78.76" width="1.99" height="6.36" fill="#c3202f" />
<rect x="401.65" y="85.02" width="1.99" height="6.36" fill="#c3202f" />
<rect x="403.33" y="72.50" width="1.99" height="6.36" fill="#c3202f" />
<rect x="403.33" y="85.02" width="1.99" height="6.36" fill="#c3202f" />
<rect x="403.33" y="91.28" width="1.99" height="6.36" fill="#c3202f" />
<rect x="405.02" y="72.50" width="1.99" height="6.36" fill="#c3202f" />
<rect x="405.02" y="78.76" width="1.99" height="6.36" fill="#c3202f" />
<rect x="406.71" y="72.50" width="1.99" height="6.36" fill="#c3202f" />
<rect x="406.71" y="85.02" width="1.99" height="6.36" fill="#c3202f" />
<rect x="406.71" y="97.54" width="1.99" height="6.36" fill="#c3202f" />
<rect x="408.39" y="72.50" width="1.99" height="6.36" fill="#c3202f" />
<rect x="408.39" y="78.76" width="1.99" height="6.36" fill="#c3202f" />
<rect x="408.39" y="85.02" width="1.99" height="6.36" fill="#c3202f" />
<rect x="408.39" y="91.28" width="1.99" height="6.36" fill="#c3202f" />
<rect x="410.08" y="72.50" width="1.99" height="6.36" fill="#c3202f" />
<rect x="410.08" y="78.76" width="1.99" height="6.36" fill="#c3202f" />
<rect x="410.08" y="91.28" width="1.99" height="6.36" fill="#c3202f" />
<rect x="411.77" y="72.50" width="1.99" height="6.36" fill="#c3202f" />
<rect x="411.77" y="78.76" width="1.99" height="6.36" fill="#c3202f" />
<rect x="411.77" y="85.02" width="1.99" height="6.36" fill="#c3202f" />
<rect x="411.77" y="91.28" width="1.99" height="6.36" fill="#c3202f" />
<rect x="413.46" y="72.50" width="1.99" height="6.36" fill="#c3202f" />
<rect x="413.46" y="78.76" width="1.99" height="6.36" fill="#c3202f" />
<rect x="413.46" y="85.02" width="1.99" height="6.36" fill="#c3202f" />
<rect x="413.46" y="91.28" width="1.99" height="6.36" fill="#c3202f" />
<rect x="415.14" y="72.50" width="1.99" height="6.36" fill="#c3202f" />
<rect x="415.14" y="78.76" width="1.99" height="6.36" fill="#c3202f" />
<rect x="416.83" y="72.50" width="1.99" height="6.36" fill="#c3202f" />
<rect x="416.83" y="85.02" width="1.99" height="6.36" fill="#c3202f" />
<rect x="416.83" y="91.28" width="1.99" height="6.36" fill="#c3202f" />
<rect x="418.52" y="72.50" width="1.99" height="6.36" fill="#c3202f" />
<rect x="418.52" y="85.02" width="1.99" height="6.36" fill="#c3202f" />
<rect x="418.52" y="91.28" width="1.99" height="6.36" fill="#c3202f" />
<rect x="418.52" y="97.54" width="1.99" height="6.36" fill="#c3202f" />
<rect x="420.20" y="72.50" width="1.99" height="6.36" fill="#c3202f" />
<rect x="420.20" y="78.76" width="1.99" height="6.36" fill="#c3202f" />
<rect x="420.20" y="91.28" width="1.99" height="6.36" fill="#c3202f" />
<rect x="420.20" y="97.54" width="1.99" height="6.36" fill="#c3202f" />
<rect x="421.89" y="72.50" width="1.99" height="6.36" fill="#c3202f" />
<rect x="421.89" y="78.76" width="1.99" height="6.36" fill="#c3202f" />
<rect x="421.89" y="85.02" width="1.99" height="6.36" fill="#c3202f" />
<rect x="421.89" y="91.28" width="1.99" height="6.36" fill="#c3202f" />
<rect x="421.89" y="97.54" width="1.99" height="6.36" fill="#c3202f" />
<rect x="423.58" y="72.50" width="1.99" height="6.36" fill="#c3202f" />
<rect x="423.58" y="78.76" width="1.99" height="6.36" fill="#c3202f" />
<rect x="423.58" y="85.02" width="1.99" height="6.36" fill="#c3202f" />
<rect x="425.26" y="72.50" width="1.99" height="6.36" fill="#c3202f" />
<rect x="425.26" y="78.76" width="1.99" height="6.36" fill="#c3202f" />
<rect x="426.95" y="72.50" width="1.99" height="6.36" fill="#c3202f" />
<rect x="426.95" y="78.76" width="1.99" height="6.36" fill="#c3202f" />
<rect x="426.95" y="91.28" width="1.99" height="6.36" fill="#c3202f" />
<rect x="426.95" y="97.54" width="1.99" height="6.36" fill="#c3202f" />
<rect x="428.64" y="72.50" width="1.99" height="6.36" fill="#c3202f" />
<rect x="428.64" y="78.76" width="1.99" height="6.36" fill="#c3202f" />
<rect x="428.64" y="91.28" width="1.99" height="6.36" fill="#c3202f" />
<rect x="428.64" y="97.54" width="1.99" height="6.36" fill="#c3202f" />
<rect x="430.33" y="72.50" width="1.99" height="6.36" fill="#c3202f" />
<rect x="430.33" y="78.76" width="1.99" height="6.36" fill="#c3202f" />
<rect x="430.33" y="85.02" width="1.99" height="6.36" fill="#c3202f" />
<rect x="430.33" y="91.28" width="1.99" height="6.36" fill="#c3202f" />
<rect x="432.01" y="72.50" width="1.99" height="6.36" fill="#c3202f" />
<rect x="432.01" y="78.76" width="1.99" height="6.36" fill="#c3202f" />
<rect x="432.01" y="85.02" width="1.99" height="6.36" fill="#c3202f" />
<rect x="432.01" y="91.28" width="1.99" height="6.36" fill="#c3202f" />
<rect x="286.60" y="78.76" width="1.30" height="6.36" fill="#c4c4c4" />
<rect x="286.60" y="85.02" width="1.30" height="6.36" fill="#c4c4c4" />
<rect x="286.60" y="91.28" width="1.30" height="6.36" fill="#c4c4c4" />
<rect x="294.80" y="78.76" width="4.00" height="6.36" fill="#c4c4c4" />
<rect x="294.80" y="85.02" width="4.00" height="6.36" fill="#c4c4c4" />
<rect x="294.80" y="91.28" width="4.00" height="6.36" fill="#c4c4c4" />
<rect x="294.60" y="97.54" width="1.30" height="6.36" fill="#c4c4c4" />
<rect x="297.30" y="97.54" width="1.30" height="6.36" fill="#c4c4c4" />
<rect x="375.70" y="78.76" width="1.60" height="6.36" fill="#c4c4c4" />
<rect x="375.70" y="85.02" width="1.60" height="6.36" fill="#c4c4c4" />
<rect x="378.30" y="78.76" width="1.60" height="6.36" fill="#c4c4c4" />
<rect x="378.30" y="85.02" width="1.60" height="6.36" fill="#c4c4c4" />
<rect x="383.50" y="78.76" width="1.60" height="6.36" fill="#c4c4c4" />
<rect x="383.50" y="85.02" width="1.60" height="6.36" fill="#c4c4c4" />
<rect x="418.40" y="78.76" width="1.60" height="6.36" fill="#c4c4c4" />
<rect x="418.40" y="85.02" width="1.60" height="6.36" fill="#c4c4c4" />
</g>
<line x1="265.00" y1="78.76" x2="433.70" y2="78.76" stroke="#ffffff" stroke-width="0.5" stroke-opacity="0.25"/>
<line x1="265.00" y1="85.02" x2="433.70" y2="85.02" stroke="#ffffff" stroke-width="0.5" stroke-opacity="0.25"/>
<line x1="265.00" y1="91.28" x2="433.70" y2="91.28" stroke="#ffffff" stroke-width="0.5" stroke-opacity="0.25"/>
<line x1="265.00" y1="97.54" x2="433.70" y2="97.54" stroke="#ffffff" stroke-width="0.5" stroke-opacity="0.25"/>
<rect x="305.55" y="72.50" width="0.90" height="31.30" fill="#ece4ea" />
<rect x="329.35" y="72.50" width="0.90" height="25.04" fill="#ece4ea" />
<rect x="418.75" y="97.54" width="0.90" height="6.26" fill="#ece4ea" />
<text x="435.90" y="77.73" font-size="5.85" text-anchor="start" fill="#333" font-weight="normal" font-style="normal" stroke="#333" stroke-width="0.13" >CK</text>
<text x="435.90" y="83.99" font-size="5.85" text-anchor="start" fill="#333" font-weight="normal" font-style="normal" stroke="#333" stroke-width="0.13" >Chr.5.abn</text>
<text x="435.90" y="90.25" font-size="5.85" text-anchor="start" fill="#333" font-weight="normal" font-style="normal" stroke="#333" stroke-width="0.13" >Chr.7.abn</text>
<text x="435.90" y="96.51" font-size="5.85" text-anchor="start" fill="#333" font-weight="normal" font-style="normal" stroke="#333" stroke-width="0.13" >Chr.17.abn</text>
<text x="435.90" y="102.77" font-size="5.85" text-anchor="start" fill="#333" font-weight="normal" font-style="normal" stroke="#333" stroke-width="0.13" >non.DBD.mutation</text>
<line x1="485.70" y1="72.50" x2="492.60" y2="72.50" stroke="#444" stroke-width="0.7" />
<line x1="485.70" y1="102.40" x2="492.60" y2="102.40" stroke="#444" stroke-width="0.7" />
<line x1="492.60" y1="72.50" x2="492.60" y2="102.40" stroke="#444" stroke-width="0.7" />
<rect x="495.70" y="79.90" width="5.20" height="4.90" fill="#23307a" />
<text x="504.30" y="84.30" font-size="5.8" text-anchor="start" fill="#333" font-weight="normal" font-style="normal" stroke="#333" stroke-width="0.13" >No</text>
<rect x="495.70" y="89.70" width="5.20" height="4.90" fill="#b2182b" />
<text x="504.30" y="94.10" font-size="5.8" text-anchor="start" fill="#333" font-weight="normal" font-style="normal" stroke="#333" stroke-width="0.13" >Yes</text>
<rect x="247.30" y="109.80" width="5.20" height="5.20" fill="#c9cc2a" />
<text x="255.60" y="114.30" font-size="5.8" text-anchor="start" fill="#333" font-weight="normal" font-style="normal" stroke="#333" stroke-width="0.13" >Frameshift</text>
<rect x="247.30" y="119.40" width="5.20" height="5.20" fill="#a8102a" />
<text x="255.60" y="123.90" font-size="5.8" text-anchor="start" fill="#333" font-weight="normal" font-style="normal" stroke="#333" stroke-width="0.13" >Missense</text>
<rect x="247.30" y="129.30" width="5.20" height="5.20" fill="#2a3282" />
<text x="255.60" y="133.80" font-size="5.8" text-anchor="start" fill="#333" font-weight="normal" font-style="normal" stroke="#333" stroke-width="0.13" >Nonsense</text>
<rect x="286.70" y="109.80" width="5.20" height="5.20" fill="#49b8c0" />
<text x="295.00" y="114.30" font-size="5.8" text-anchor="start" fill="#333" font-weight="normal" font-style="normal" stroke="#333" stroke-width="0.13" >Splice-site</text>
<rect x="286.70" y="119.40" width="5.20" height="5.20" fill="#5a3a9a" />
<text x="295.00" y="123.90" font-size="5.8" text-anchor="start" fill="#333" font-weight="normal" font-style="normal" stroke="#333" stroke-width="0.13" >Unknown</text>
<rect x="286.70" y="129.30" width="5.20" height="5.20" fill="#111" />
<text x="295.00" y="133.80" font-size="5.8" text-anchor="start" fill="#333" font-weight="normal" font-style="normal" stroke="#333" stroke-width="0.13" >Multiple mut.</text>
<text x="331.20" y="113.60" font-size="5.8" text-anchor="start" fill="#333" font-weight="normal" font-style="normal" stroke="#333" stroke-width="0.13" >Diagnosis</text>
<rect x="332.40" y="119.00" width="5.20" height="5.20" fill="#f08a1c" />
<text x="340.80" y="123.50" font-size="5.8" text-anchor="start" fill="#333" font-weight="normal" font-style="normal" stroke="#333" stroke-width="0.13" >AML other</text>
<rect x="332.40" y="128.20" width="5.20" height="5.20" fill="#b3122a" />
<text x="340.80" y="132.70" font-size="5.8" text-anchor="start" fill="#333" font-weight="normal" font-style="normal" stroke="#333" stroke-width="0.13" >AML with mutated TP53</text>
<rect x="332.40" y="137.50" width="5.20" height="5.20" fill="#c7cc2a" />
<text x="340.80" y="142.00" font-size="5.8" text-anchor="start" fill="#333" font-weight="normal" font-style="normal" stroke="#333" stroke-width="0.13" >MDS other</text>
<rect x="408.60" y="119.00" width="5.20" height="5.20" fill="#283a8e" />
<text x="417.00" y="123.50" font-size="5.8" text-anchor="start" fill="#333" font-weight="normal" font-style="normal" stroke="#333" stroke-width="0.13" >MDS with mutated TP53</text>
<rect x="408.60" y="128.20" width="5.20" height="5.20" fill="#3d8ed0" />
<text x="417.00" y="132.70" font-size="5.8" text-anchor="start" fill="#333" font-weight="normal" font-style="normal" stroke="#333" stroke-width="0.13" >MDS/AML with mutated TP53</text>
<text x="6.90" y="171.40" font-size="10.5" text-anchor="start" fill="#111" font-weight="bold" font-style="normal" >C</text>
<line x1="40.70" y1="181.00" x2="40.70" y2="268.75" stroke="#1e1e1e" stroke-width="1.1" />
<line x1="40.15" y1="268.20" x2="213.20" y2="268.20" stroke="#1e1e1e" stroke-width="1.1" />
<line x1="37.80" y1="264.90" x2="40.70" y2="264.90" stroke="#222" stroke-width="1.0" />
<text x="35.00" y="267.50" font-size="7.4" text-anchor="end" fill="#333" font-weight="normal" font-style="normal" stroke="#333" stroke-width="0.13" >0</text>
<line x1="37.80" y1="244.26" x2="40.70" y2="244.26" stroke="#222" stroke-width="1.0" />
<text x="35.00" y="246.86" font-size="7.4" text-anchor="end" fill="#333" font-weight="normal" font-style="normal" stroke="#333" stroke-width="0.13" >25</text>
<line x1="37.80" y1="223.62" x2="40.70" y2="223.62" stroke="#222" stroke-width="1.0" />
<text x="35.00" y="226.22" font-size="7.4" text-anchor="end" fill="#333" font-weight="normal" font-style="normal" stroke="#333" stroke-width="0.13" >50</text>
<line x1="37.80" y1="202.98" x2="40.70" y2="202.98" stroke="#222" stroke-width="1.0" />
<text x="35.00" y="205.58" font-size="7.4" text-anchor="end" fill="#333" font-weight="normal" font-style="normal" stroke="#333" stroke-width="0.13" >75</text>
<line x1="37.80" y1="182.34" x2="40.70" y2="182.34" stroke="#222" stroke-width="1.0" />
<text x="35.00" y="184.94" font-size="7.4" text-anchor="end" fill="#333" font-weight="normal" font-style="normal" stroke="#333" stroke-width="0.13" >100</text>
<text font-size="8.3" fill="#333" stroke="#333" stroke-width="0.15" text-anchor="middle" transform="translate(21.6,225.0) rotate(-90) scale(0.78,1)"><tspan font-style="italic">TP53</tspan> VAF</text>
<line x1="60.60" y1="268.20" x2="60.60" y2="270.90" stroke="#333" stroke-width="0.9" />
<text x="60.60" y="281.30" font-size="7.6" text-anchor="middle" fill="#333" font-weight="normal" font-style="normal" stroke="#333" stroke-width="0.13" >MDS</text>
<line x1="94.00" y1="268.20" x2="94.00" y2="270.90" stroke="#333" stroke-width="0.9" />
<text x="94.00" y="281.30" font-size="7.6" text-anchor="middle" fill="#333" font-weight="normal" font-style="normal" stroke="#333" stroke-width="0.13" >AML</text>
<line x1="127.30" y1="268.20" x2="127.30" y2="270.90" stroke="#333" stroke-width="0.9" />
<text x="127.30" y="281.30" font-size="7.6" text-anchor="middle" fill="#333" font-weight="normal" font-style="normal" stroke="#333" stroke-width="0.13" >MDS</text>
<line x1="160.10" y1="268.20" x2="160.10" y2="270.90" stroke="#333" stroke-width="0.9" />
<text x="160.10" y="281.30" font-size="7.6" text-anchor="middle" fill="#333" font-weight="normal" font-style="normal" stroke="#333" stroke-width="0.13" >MDS/AML</text>
<line x1="193.10" y1="268.20" x2="193.10" y2="270.90" stroke="#333" stroke-width="0.9" />
<text x="193.10" y="281.30" font-size="7.6" text-anchor="middle" fill="#333" font-weight="normal" font-style="normal" stroke="#333" stroke-width="0.13" >AML</text>
<path d="M48,281.8 L48,289 L104.6,289 L104.6,281.8 M76.1,289 L76.1,296.5" fill="none" stroke="#444" stroke-width="0.9"/>
<path d="M114.2,281.8 L114.2,289 L204.2,289 L204.2,281.8 M159.0,289 L159.0,296.5" fill="none" stroke="#444" stroke-width="0.9"/>
<text x="76.1" y="307.0" text-anchor="middle" fill="#333" stroke="#333" stroke-width="0.13"><tspan font-size="7.9">ICC </tspan><tspan font-size="7.1">excluded</tspan></text>
<text x="158.9" y="307.6" text-anchor="middle" fill="#333" stroke="#333" stroke-width="0.13" font-size="7.6">ICC-<tspan font-style="italic">TP53</tspan><tspan font-size="4.4" dy="-2.8">mut</tspan><tspan dy="2.8"> MN</tspan></text>
<circle cx="48.90" cy="259.20" r="0.75" fill="#444" />
<circle cx="70.50" cy="259.00" r="0.75" fill="#444" />
<circle cx="61.20" cy="263.40" r="0.75" fill="#444" />
<circle cx="56.00" cy="257.60" r="0.75" fill="#444" />
<circle cx="64.00" cy="257.70" r="0.75" fill="#444" />
<circle cx="59.50" cy="257.50" r="0.75" fill="#444" />
<circle cx="55.00" cy="261.20" r="0.75" fill="#444" />
<circle cx="66.00" cy="261.00" r="0.75" fill="#444" />
<rect x="53.50" y="258.30" width="14.10" height="2.30" fill="#111" />
<circle cx="60.90" cy="228.70" r="1.65" fill="#111" />
<circle cx="60.90" cy="233.90" r="1.65" fill="#111" />
<circle cx="60.90" cy="253.00" r="1.65" fill="#111" />
<circle cx="82.50" cy="258.60" r="0.75" fill="#444" />
<circle cx="84.00" cy="261.50" r="0.75" fill="#444" />
<circle cx="103.50" cy="258.80" r="0.75" fill="#444" />
<circle cx="93.80" cy="264.80" r="0.75" fill="#444" />
<circle cx="90.00" cy="258.30" r="0.75" fill="#444" />
<circle cx="97.00" cy="258.40" r="0.75" fill="#444" />
<circle cx="92.00" cy="262.00" r="0.75" fill="#444" />
<rect x="86.40" y="259.10" width="14.20" height="2.20" fill="#111" />
<line x1="127.25" y1="186.80" x2="127.25" y2="216.40" stroke="#222" stroke-width="0.8" />
<line x1="127.25" y1="243.40" x2="127.25" y2="257.70" stroke="#222" stroke-width="0.8" />
<rect x="119.9" y="216.4" width="14.699999999999989" height="27.0" fill="#f59d1a" stroke="#333" stroke-width="0.6"/>
<rect x="119.90" y="232.90" width="14.70" height="1.80" fill="#1a1a1a" />
<line x1="160.10" y1="193.80" x2="160.10" y2="206.60" stroke="#222" stroke-width="0.8" />
<line x1="160.10" y1="230.10" x2="160.10" y2="247.40" stroke="#222" stroke-width="0.8" />
<rect x="153.0" y="206.6" width="14.199999999999989" height="23.5" fill="#d0112f" stroke="#333" stroke-width="0.6"/>
<rect x="153.00" y="220.00" width="14.20" height="1.80" fill="#1a1a1a" />
<line x1="193.45" y1="189.30" x2="193.45" y2="212.80" stroke="#222" stroke-width="0.8" />
<line x1="193.45" y1="235.80" x2="193.45" y2="255.60" stroke="#222" stroke-width="0.8" />
<rect x="186.3" y="212.8" width="14.299999999999983" height="23.0" fill="#1d4e8e" stroke="#333" stroke-width="0.6"/>
<rect x="186.30" y="224.10" width="14.30" height="1.80" fill="#1a1a1a" />
<circle cx="126.70" cy="187.00" r="0.80" fill="#2a3050" />
<circle cx="127.60" cy="193.20" r="0.80" fill="#2a3050" />
<circle cx="124.00" cy="198.50" r="0.80" fill="#2a3050" />
<circle cx="125.00" cy="201.00" r="0.80" fill="#2a3050" />
<circle cx="129.30" cy="199.70" r="0.80" fill="#2a3050" />
<circle cx="127.00" cy="203.70" r="0.80" fill="#2a3050" />
<circle cx="123.20" cy="207.80" r="0.80" fill="#2a3050" />
<circle cx="131.40" cy="207.80" r="0.80" fill="#2a3050" />
<circle cx="127.00" cy="212.00" r="0.80" fill="#2a3050" />
<circle cx="125.50" cy="217.80" r="0.80" fill="#2a3050" />
<circle cx="132.50" cy="219.00" r="0.80" fill="#2a3050" />
<circle cx="125.00" cy="226.60" r="0.80" fill="#2a3050" />
<circle cx="128.80" cy="227.50" r="0.80" fill="#2a3050" />
<circle cx="132.00" cy="226.00" r="0.80" fill="#2a3050" />
<circle cx="119.10" cy="228.90" r="0.80" fill="#2a3050" />
<circle cx="136.40" cy="230.60" r="0.80" fill="#2a3050" />
<circle cx="115.30" cy="235.40" r="0.80" fill="#2a3050" />
<circle cx="117.90" cy="233.60" r="0.80" fill="#2a3050" />
<circle cx="138.10" cy="235.90" r="0.80" fill="#2a3050" />
<circle cx="122.00" cy="236.00" r="0.80" fill="#2a3050" />
<circle cx="126.00" cy="238.00" r="0.80" fill="#2a3050" />
<circle cx="131.00" cy="238.00" r="0.80" fill="#2a3050" />
<circle cx="121.40" cy="239.80" r="0.80" fill="#2a3050" />
<circle cx="127.50" cy="241.00" r="0.80" fill="#2a3050" />
<circle cx="132.00" cy="241.00" r="0.80" fill="#2a3050" />
<circle cx="120.90" cy="246.80" r="0.80" fill="#2a3050" />
<circle cx="127.60" cy="246.80" r="0.80" fill="#2a3050" />
<circle cx="132.80" cy="249.40" r="0.80" fill="#2a3050" />
<circle cx="126.70" cy="251.00" r="0.80" fill="#2a3050" />
<circle cx="124.00" cy="253.80" r="0.80" fill="#2a3050" />
<circle cx="130.00" cy="252.00" r="0.80" fill="#2a3050" />
<circle cx="125.80" cy="256.40" r="0.80" fill="#2a3050" />
<circle cx="128.50" cy="257.30" r="0.80" fill="#2a3050" />
<circle cx="131.00" cy="255.80" r="0.80" fill="#2a3050" />
<circle cx="122.50" cy="250.00" r="0.80" fill="#2a3050" />
<circle cx="160.10" cy="194.00" r="0.80" fill="#2a3050" />
<circle cx="157.00" cy="199.50" r="0.80" fill="#2a3050" />
<circle cx="164.50" cy="199.00" r="0.80" fill="#2a3050" />
<circle cx="162.00" cy="208.00" r="0.80" fill="#2a3050" />
<circle cx="155.00" cy="215.00" r="0.80" fill="#2a3050" />
<circle cx="159.00" cy="222.00" r="0.80" fill="#2a3050" />
<circle cx="166.00" cy="228.00" r="0.80" fill="#2a3050" />
<circle cx="150.50" cy="230.00" r="0.80" fill="#2a3050" />
<circle cx="168.50" cy="231.00" r="0.80" fill="#2a3050" />
<circle cx="161.00" cy="234.00" r="0.80" fill="#2a3050" />
<circle cx="154.50" cy="240.00" r="0.80" fill="#2a3050" />
<circle cx="163.00" cy="244.00" r="0.80" fill="#2a3050" />
<circle cx="160.00" cy="247.00" r="0.80" fill="#2a3050" />
<circle cx="152.50" cy="223.00" r="0.80" fill="#2a3050" />
<circle cx="189.40" cy="189.00" r="0.80" fill="#2a3050" />
<circle cx="200.43" cy="190.00" r="0.80" fill="#2a3050" />
<circle cx="187.89" cy="192.00" r="0.80" fill="#2a3050" />
<circle cx="196.57" cy="194.00" r="0.80" fill="#2a3050" />
<circle cx="187.28" cy="196.00" r="0.80" fill="#2a3050" />
<circle cx="189.71" cy="197.00" r="0.80" fill="#2a3050" />
<circle cx="200.99" cy="199.00" r="0.80" fill="#2a3050" />
<circle cx="189.14" cy="201.00" r="0.80" fill="#2a3050" />
<circle cx="195.63" cy="203.00" r="0.80" fill="#2a3050" />
<circle cx="192.89" cy="206.00" r="0.80" fill="#2a3050" />
<circle cx="192.80" cy="209.00" r="0.80" fill="#2a3050" />
<circle cx="193.42" cy="212.00" r="0.80" fill="#2a3050" />
<circle cx="187.04" cy="214.00" r="0.80" fill="#2a3050" />
<circle cx="200.44" cy="216.00" r="0.80" fill="#2a3050" />
<circle cx="184.88" cy="218.00" r="0.80" fill="#2a3050" />
<circle cx="187.92" cy="220.00" r="0.80" fill="#2a3050" />
<circle cx="183.42" cy="222.00" r="0.80" fill="#2a3050" />
<circle cx="188.60" cy="224.00" r="0.80" fill="#2a3050" />
<circle cx="191.56" cy="225.00" r="0.80" fill="#2a3050" />
<circle cx="201.94" cy="226.00" r="0.80" fill="#2a3050" />
<circle cx="190.96" cy="227.00" r="0.80" fill="#2a3050" />
<circle cx="185.39" cy="228.00" r="0.80" fill="#2a3050" />
<circle cx="188.43" cy="229.00" r="0.80" fill="#2a3050" />
<circle cx="203.82" cy="230.00" r="0.80" fill="#2a3050" />
<circle cx="184.32" cy="232.00" r="0.80" fill="#2a3050" />
<circle cx="196.02" cy="234.00" r="0.80" fill="#2a3050" />
<circle cx="191.66" cy="236.00" r="0.80" fill="#2a3050" />
<circle cx="195.91" cy="238.00" r="0.80" fill="#2a3050" />
<circle cx="191.08" cy="240.00" r="0.80" fill="#2a3050" />
<circle cx="196.37" cy="242.00" r="0.80" fill="#2a3050" />
<circle cx="193.46" cy="244.00" r="0.80" fill="#2a3050" />
<circle cx="195.75" cy="246.00" r="0.80" fill="#2a3050" />
<circle cx="199.52" cy="248.00" r="0.80" fill="#2a3050" />
<circle cx="194.72" cy="249.00" r="0.80" fill="#2a3050" />
<circle cx="188.13" cy="250.00" r="0.80" fill="#2a3050" />
<circle cx="186.97" cy="251.00" r="0.80" fill="#2a3050" />
<circle cx="200.19" cy="252.00" r="0.80" fill="#2a3050" />
<circle cx="193.33" cy="253.00" r="0.80" fill="#2a3050" />
<circle cx="188.91" cy="254.00" r="0.80" fill="#2a3050" />
<circle cx="200.19" cy="255.00" r="0.80" fill="#2a3050" />
<text x="232.70" y="170.80" font-size="10.5" text-anchor="start" fill="#111" font-weight="bold" font-style="normal" >E</text>
<line x1="272.50" y1="182.80" x2="272.50" y2="268.95" stroke="#1e1e1e" stroke-width="1.1" />
<line x1="271.95" y1="268.40" x2="445.40" y2="268.40" stroke="#1e1e1e" stroke-width="1.1" />
<line x1="269.60" y1="264.40" x2="272.50" y2="264.40" stroke="#222" stroke-width="1.0" />
<text x="266.60" y="267.00" font-size="7.4" text-anchor="end" fill="#333" font-weight="normal" font-style="normal" stroke="#333" stroke-width="0.13" >0</text>
<line x1="269.60" y1="242.92" x2="272.50" y2="242.92" stroke="#222" stroke-width="1.0" />
<text x="266.60" y="245.52" font-size="7.4" text-anchor="end" fill="#333" font-weight="normal" font-style="normal" stroke="#333" stroke-width="0.13" >25</text>
<line x1="269.60" y1="221.45" x2="272.50" y2="221.45" stroke="#222" stroke-width="1.0" />
<text x="266.60" y="224.05" font-size="7.4" text-anchor="end" fill="#333" font-weight="normal" font-style="normal" stroke="#333" stroke-width="0.13" >50</text>
<line x1="269.60" y1="199.97" x2="272.50" y2="199.97" stroke="#222" stroke-width="1.0" />
<text x="266.60" y="202.57" font-size="7.4" text-anchor="end" fill="#333" font-weight="normal" font-style="normal" stroke="#333" stroke-width="0.13" >75</text>
<text x="0.00" y="0.00" font-size="8.6" text-anchor="middle" fill="#333" font-weight="normal" font-style="normal" stroke="#333" stroke-width="0.45" transform="translate(252.2,225.2) rotate(-90) scale(0.72,1)">BM blast %</text>
<line x1="314.60" y1="268.40" x2="314.60" y2="271.00" stroke="#333" stroke-width="0.9" />
<text x="314.60" y="280.80" font-size="7.4" text-anchor="middle" fill="#333" font-weight="normal" font-style="normal" stroke="#333" stroke-width="0.13" >Single-hit</text>
<line x1="383.80" y1="268.40" x2="383.80" y2="271.00" stroke="#333" stroke-width="0.9" />
<text x="383.80" y="280.80" font-size="7.4" text-anchor="middle" fill="#333" font-weight="normal" font-style="normal" stroke="#333" stroke-width="0.13" >Multi-hit</text>
<line x1="313.50" y1="181.50" x2="384.50" y2="181.50" stroke="#4a78a8" stroke-width="1.0" />
<text x="348.5" y="176.6" text-anchor="middle" fill="#333" stroke="#333" stroke-width="0.13" font-size="7.6"><tspan font-style="italic">P</tspan> = .22</text>
<path d="M316.60,185.60 L317.78,186.91 L317.89,188.22 L318.00,189.53 L318.10,190.84 L318.22,192.15 L318.38,193.46 L318.54,194.77 L318.70,196.08 L318.86,197.39 L319.03,198.70 L319.27,200.01 L319.57,201.32 L319.88,202.63 L320.19,203.94 L320.38,205.25 L320.56,206.56 L320.74,207.87 L320.89,209.18 L320.78,210.49 L320.68,211.80 L320.57,213.11 L320.46,214.42 L320.35,215.73 L320.24,217.04 L320.12,218.35 L320.27,219.66 L320.48,220.97 L320.69,222.28 L320.93,223.59 L321.23,224.90 L321.53,226.21 L321.82,227.52 L322.24,228.83 L322.82,230.14 L323.41,231.45 L323.99,232.76 L324.76,234.07 L325.56,235.38 L326.36,236.69 L327.17,238.00 L328.07,239.31 L328.97,240.62 L329.87,241.93 L330.77,243.24 L331.71,244.55 L332.65,245.86 L333.59,247.17 L334.58,248.48 L335.58,249.79 L336.59,251.10 L337.50,252.41 L338.36,253.72 L339.22,255.03 L339.76,256.34 L340.21,257.65 L340.56,258.96 L340.71,260.27 L340.55,261.58 L339.52,262.89 L333.60,264.20 L295.60,264.20 L289.68,262.89 L288.65,261.58 L288.49,260.27 L288.64,258.96 L288.99,257.65 L289.44,256.34 L289.98,255.03 L290.84,253.72 L291.70,252.41 L292.61,251.10 L293.62,249.79 L294.62,248.48 L295.61,247.17 L296.55,245.86 L297.49,244.55 L298.43,243.24 L299.33,241.93 L300.23,240.62 L301.13,239.31 L302.03,238.00 L302.84,236.69 L303.64,235.38 L304.44,234.07 L305.21,232.76 L305.79,231.45 L306.38,230.14 L306.96,228.83 L307.38,227.52 L307.67,226.21 L307.97,224.90 L308.27,223.59 L308.51,222.28 L308.72,220.97 L308.93,219.66 L309.08,218.35 L308.96,217.04 L308.85,215.73 L308.74,214.42 L308.63,213.11 L308.52,211.80 L308.42,210.49 L308.31,209.18 L308.46,207.87 L308.64,206.56 L308.83,205.25 L309.01,203.94 L309.32,202.63 L309.63,201.32 L309.93,200.01 L310.17,198.70 L310.34,197.39 L310.50,196.08 L310.66,194.77 L310.82,193.46 L310.98,192.15 L311.10,190.84 L311.20,189.53 L311.31,188.22 L311.42,186.91 L312.60,185.60 Z" fill="#cc0f2c" stroke="#5a0a14" stroke-width="0.5" stroke-linejoin="round"/>
<path d="M386.30,187.40 L388.82,188.67 L389.37,189.94 L389.54,191.21 L389.68,192.48 L389.77,193.75 L389.63,195.02 L389.48,196.29 L389.30,197.56 L389.06,198.83 L388.82,200.10 L388.59,201.37 L388.42,202.64 L388.25,203.91 L388.09,205.18 L388.01,206.45 L387.93,207.72 L387.85,208.99 L387.91,210.26 L387.98,211.53 L388.04,212.80 L388.11,214.07 L388.24,215.34 L388.38,216.61 L388.51,217.88 L388.72,219.15 L389.07,220.42 L389.42,221.69 L389.81,222.96 L390.21,224.23 L390.61,225.50 L391.11,226.77 L391.85,228.04 L392.59,229.31 L393.39,230.58 L394.18,231.85 L394.86,233.12 L395.50,234.39 L396.13,235.66 L396.76,236.93 L397.42,238.20 L398.16,239.47 L398.91,240.74 L399.65,242.01 L400.40,243.28 L401.56,244.55 L403.02,245.82 L404.50,247.09 L406.02,248.36 L407.53,249.63 L408.77,250.90 L410.02,252.17 L411.26,253.44 L412.45,254.71 L413.39,255.98 L414.32,257.25 L414.81,258.52 L415.03,259.79 L414.71,261.06 L413.13,262.33 L407.80,263.60 L359.80,263.60 L354.47,262.33 L352.89,261.06 L352.57,259.79 L352.79,258.52 L353.28,257.25 L354.21,255.98 L355.15,254.71 L356.34,253.44 L357.58,252.17 L358.83,250.90 L360.07,249.63 L361.58,248.36 L363.10,247.09 L364.58,245.82 L366.04,244.55 L367.20,243.28 L367.95,242.01 L368.69,240.74 L369.44,239.47 L370.18,238.20 L370.84,236.93 L371.47,235.66 L372.11,234.39 L372.74,233.12 L373.42,231.85 L374.21,230.58 L375.01,229.31 L375.75,228.04 L376.49,226.77 L376.99,225.50 L377.39,224.23 L377.79,222.96 L378.18,221.69 L378.53,220.42 L378.88,219.15 L379.09,217.88 L379.22,216.61 L379.36,215.34 L379.49,214.07 L379.56,212.80 L379.62,211.53 L379.69,210.26 L379.75,208.99 L379.67,207.72 L379.59,206.45 L379.51,205.18 L379.35,203.91 L379.18,202.64 L379.01,201.37 L378.78,200.10 L378.54,198.83 L378.30,197.56 L378.12,196.29 L377.97,195.02 L377.83,193.75 L377.92,192.48 L378.06,191.21 L378.23,189.94 L378.78,188.67 L381.30,187.40 Z" fill="#174e8c" stroke="#0a2548" stroke-width="0.5" stroke-linejoin="round"/>
<circle cx="313.22" cy="222.05" r="0.72" fill="#7a0618" />
<circle cx="317.26" cy="197.07" r="0.72" fill="#7a0618" />
<circle cx="314.61" cy="186.90" r="0.72" fill="#7a0618" />
<circle cx="294.23" cy="255.57" r="0.72" fill="#7a0618" />
<circle cx="316.27" cy="229.08" r="0.72" fill="#7a0618" />
<circle cx="313.92" cy="189.55" r="0.72" fill="#7a0618" />
<circle cx="313.28" cy="240.57" r="0.72" fill="#7a0618" />
<circle cx="304.40" cy="242.23" r="0.72" fill="#7a0618" />
<circle cx="310.63" cy="204.73" r="0.72" fill="#7a0618" />
<circle cx="319.80" cy="225.38" r="0.72" fill="#7a0618" />
<circle cx="319.20" cy="231.86" r="0.72" fill="#7a0618" />
<circle cx="317.13" cy="215.94" r="0.72" fill="#7a0618" />
<circle cx="313.23" cy="194.23" r="0.72" fill="#7a0618" />
<circle cx="320.10" cy="238.32" r="0.72" fill="#7a0618" />
<circle cx="310.52" cy="218.88" r="0.72" fill="#7a0618" />
<circle cx="311.46" cy="206.94" r="0.72" fill="#7a0618" />
<circle cx="318.05" cy="208.05" r="0.72" fill="#7a0618" />
<circle cx="318.06" cy="201.76" r="0.72" fill="#7a0618" />
<circle cx="293.75" cy="254.11" r="0.72" fill="#7a0618" />
<circle cx="314.51" cy="215.57" r="0.72" fill="#7a0618" />
<circle cx="314.20" cy="188.21" r="0.72" fill="#7a0618" />
<circle cx="295.58" cy="256.19" r="0.72" fill="#7a0618" />
<circle cx="308.08" cy="232.36" r="0.72" fill="#7a0618" />
<circle cx="320.92" cy="230.96" r="0.72" fill="#7a0618" />
<circle cx="310.13" cy="202.04" r="0.72" fill="#7a0618" />
<circle cx="314.85" cy="192.83" r="0.72" fill="#7a0618" />
<circle cx="312.40" cy="187.74" r="0.72" fill="#7a0618" />
<circle cx="319.63" cy="224.65" r="0.72" fill="#7a0618" />
<circle cx="313.60" cy="218.75" r="0.72" fill="#7a0618" />
<circle cx="306.08" cy="235.58" r="0.72" fill="#7a0618" />
<circle cx="309.34" cy="231.04" r="0.72" fill="#7a0618" />
<circle cx="322.92" cy="233.28" r="0.72" fill="#7a0618" />
<circle cx="314.92" cy="190.57" r="0.72" fill="#7a0618" />
<circle cx="308.32" cy="233.09" r="0.72" fill="#7a0618" />
<circle cx="319.97" cy="207.06" r="0.72" fill="#7a0618" />
<circle cx="296.72" cy="263.24" r="0.72" fill="#7a0618" />
<circle cx="327.08" cy="240.72" r="0.72" fill="#7a0618" />
<circle cx="315.73" cy="204.63" r="0.72" fill="#7a0618" />
<circle cx="313.85" cy="189.71" r="0.72" fill="#7a0618" />
<circle cx="316.80" cy="238.31" r="0.72" fill="#7a0618" />
<circle cx="300.07" cy="246.05" r="0.72" fill="#7a0618" />
<circle cx="318.51" cy="213.13" r="0.72" fill="#7a0618" />
<circle cx="313.80" cy="231.38" r="0.72" fill="#7a0618" />
<circle cx="319.47" cy="217.37" r="0.72" fill="#7a0618" />
<circle cx="307.05" cy="230.63" r="0.72" fill="#7a0618" />
<circle cx="308.10" cy="247.95" r="0.72" fill="#7a0618" />
<circle cx="311.68" cy="219.79" r="0.72" fill="#7a0618" />
<circle cx="312.77" cy="220.59" r="0.72" fill="#7a0618" />
<circle cx="315.42" cy="193.24" r="0.72" fill="#7a0618" />
<circle cx="316.47" cy="194.34" r="0.72" fill="#7a0618" />
<circle cx="316.12" cy="188.36" r="0.72" fill="#7a0618" />
<circle cx="314.50" cy="248.58" r="0.72" fill="#7a0618" />
<circle cx="307.53" cy="241.03" r="0.72" fill="#7a0618" />
<circle cx="312.27" cy="243.20" r="0.72" fill="#7a0618" />
<circle cx="319.26" cy="204.18" r="0.72" fill="#7a0618" />
<circle cx="313.33" cy="217.27" r="0.72" fill="#7a0618" />
<circle cx="308.74" cy="252.61" r="0.72" fill="#7a0618" />
<circle cx="306.81" cy="237.80" r="0.72" fill="#7a0618" />
<circle cx="304.20" cy="251.33" r="0.72" fill="#7a0618" />
<circle cx="317.32" cy="190.29" r="0.72" fill="#7a0618" />
<circle cx="318.17" cy="199.70" r="0.72" fill="#7a0618" />
<circle cx="319.93" cy="262.33" r="0.72" fill="#7a0618" />
<circle cx="312.30" cy="187.31" r="0.72" fill="#7a0618" />
<circle cx="313.57" cy="202.46" r="0.72" fill="#7a0618" />
<circle cx="323.18" cy="233.49" r="0.72" fill="#7a0618" />
<circle cx="310.77" cy="213.70" r="0.72" fill="#7a0618" />
<circle cx="309.22" cy="229.67" r="0.72" fill="#7a0618" />
<circle cx="314.95" cy="193.07" r="0.72" fill="#7a0618" />
<circle cx="303.01" cy="239.99" r="0.72" fill="#7a0618" />
<circle cx="316.76" cy="221.16" r="0.72" fill="#7a0618" />
<circle cx="379.61" cy="245.21" r="0.72" fill="#06142a" />
<circle cx="365.41" cy="254.38" r="0.72" fill="#06142a" />
<circle cx="391.95" cy="241.57" r="0.72" fill="#06142a" />
<circle cx="383.50" cy="253.87" r="0.72" fill="#06142a" />
<circle cx="379.14" cy="195.60" r="0.72" fill="#06142a" />
<circle cx="379.08" cy="227.65" r="0.72" fill="#06142a" />
<circle cx="374.25" cy="235.17" r="0.72" fill="#06142a" />
<circle cx="373.09" cy="246.40" r="0.72" fill="#06142a" />
<circle cx="380.79" cy="189.17" r="0.72" fill="#06142a" />
<circle cx="384.41" cy="222.27" r="0.72" fill="#06142a" />
<circle cx="381.16" cy="217.17" r="0.72" fill="#06142a" />
<circle cx="388.97" cy="224.16" r="0.72" fill="#06142a" />
<circle cx="390.42" cy="228.14" r="0.72" fill="#06142a" />
<circle cx="388.77" cy="190.35" r="0.72" fill="#06142a" />
<circle cx="386.28" cy="254.52" r="0.72" fill="#06142a" />
<circle cx="384.32" cy="227.25" r="0.72" fill="#06142a" />
<circle cx="358.57" cy="256.05" r="0.72" fill="#06142a" />
<circle cx="384.81" cy="236.15" r="0.72" fill="#06142a" />
<circle cx="385.39" cy="210.60" r="0.72" fill="#06142a" />
<circle cx="371.72" cy="241.96" r="0.72" fill="#06142a" />
<circle cx="382.47" cy="240.38" r="0.72" fill="#06142a" />
<circle cx="385.44" cy="224.77" r="0.72" fill="#06142a" />
<circle cx="384.88" cy="192.15" r="0.72" fill="#06142a" />
<circle cx="386.77" cy="216.04" r="0.72" fill="#06142a" />
<circle cx="386.17" cy="205.44" r="0.72" fill="#06142a" />
<circle cx="387.70" cy="242.63" r="0.72" fill="#06142a" />
<circle cx="358.78" cy="253.54" r="0.72" fill="#06142a" />
<circle cx="386.13" cy="232.73" r="0.72" fill="#06142a" />
<circle cx="381.31" cy="238.78" r="0.72" fill="#06142a" />
<circle cx="380.45" cy="193.34" r="0.72" fill="#06142a" />
<circle cx="376.99" cy="233.57" r="0.72" fill="#06142a" />
<circle cx="382.25" cy="193.04" r="0.72" fill="#06142a" />
<circle cx="384.19" cy="223.28" r="0.72" fill="#06142a" />
<circle cx="386.56" cy="190.14" r="0.72" fill="#06142a" />
<circle cx="385.87" cy="213.10" r="0.72" fill="#06142a" />
<circle cx="387.88" cy="188.84" r="0.72" fill="#06142a" />
<circle cx="393.34" cy="232.23" r="0.72" fill="#06142a" />
<circle cx="403.57" cy="261.78" r="0.72" fill="#06142a" />
<circle cx="382.26" cy="196.13" r="0.72" fill="#06142a" />
<circle cx="385.86" cy="205.46" r="0.72" fill="#06142a" />
<circle cx="381.55" cy="202.54" r="0.72" fill="#06142a" />
<circle cx="379.95" cy="196.45" r="0.72" fill="#06142a" />
<circle cx="412.66" cy="258.18" r="0.72" fill="#06142a" />
<circle cx="385.69" cy="215.98" r="0.72" fill="#06142a" />
<circle cx="384.04" cy="223.08" r="0.72" fill="#06142a" />
<circle cx="384.85" cy="215.76" r="0.72" fill="#06142a" />
<circle cx="382.02" cy="205.82" r="0.72" fill="#06142a" />
<circle cx="379.72" cy="226.83" r="0.72" fill="#06142a" />
<circle cx="388.08" cy="220.97" r="0.72" fill="#06142a" />
<circle cx="379.88" cy="189.86" r="0.72" fill="#06142a" />
<circle cx="365.19" cy="247.88" r="0.72" fill="#06142a" />
<circle cx="386.32" cy="206.94" r="0.72" fill="#06142a" />
<circle cx="377.89" cy="233.35" r="0.72" fill="#06142a" />
<circle cx="381.42" cy="192.57" r="0.72" fill="#06142a" />
<circle cx="385.92" cy="210.59" r="0.72" fill="#06142a" />
<circle cx="401.17" cy="260.98" r="0.72" fill="#06142a" />
<circle cx="408.45" cy="255.47" r="0.72" fill="#06142a" />
<circle cx="406.49" cy="253.59" r="0.72" fill="#06142a" />
<circle cx="359.08" cy="260.38" r="0.72" fill="#06142a" />
<circle cx="381.98" cy="211.90" r="0.72" fill="#06142a" />
<circle cx="383.63" cy="233.27" r="0.72" fill="#06142a" />
<circle cx="386.30" cy="214.08" r="0.72" fill="#06142a" />
<circle cx="381.40" cy="217.97" r="0.72" fill="#06142a" />
<circle cx="383.54" cy="208.82" r="0.72" fill="#06142a" />
<circle cx="385.27" cy="233.74" r="0.72" fill="#06142a" />
<circle cx="380.77" cy="221.02" r="0.72" fill="#06142a" />
<circle cx="382.35" cy="218.20" r="0.72" fill="#06142a" />
<circle cx="384.17" cy="200.92" r="0.72" fill="#06142a" />
<circle cx="385.52" cy="202.27" r="0.72" fill="#06142a" />
<circle cx="374.69" cy="237.34" r="0.72" fill="#06142a" />
<circle cx="380.13" cy="234.85" r="0.72" fill="#06142a" />
<circle cx="384.86" cy="221.55" r="0.72" fill="#06142a" />
<circle cx="397.38" cy="245.02" r="0.72" fill="#06142a" />
<circle cx="374.68" cy="242.92" r="0.72" fill="#06142a" />
<circle cx="381.24" cy="228.63" r="0.72" fill="#06142a" />
<circle cx="384.31" cy="189.63" r="0.72" fill="#06142a" />
<circle cx="387.85" cy="223.31" r="0.72" fill="#06142a" />
<circle cx="386.21" cy="212.35" r="0.72" fill="#06142a" />
<circle cx="378.52" cy="226.56" r="0.72" fill="#06142a" />
<circle cx="377.31" cy="241.68" r="0.72" fill="#06142a" />
<circle cx="377.44" cy="228.00" r="0.72" fill="#06142a" />
<circle cx="387.65" cy="189.01" r="0.72" fill="#06142a" />
<circle cx="380.18" cy="191.33" r="0.72" fill="#06142a" />
<circle cx="380.27" cy="200.38" r="0.72" fill="#06142a" />
<circle cx="406.75" cy="249.68" r="0.72" fill="#06142a" />
<circle cx="381.25" cy="236.63" r="0.72" fill="#06142a" />
<circle cx="384.15" cy="254.48" r="0.72" fill="#06142a" />
<circle cx="385.61" cy="198.26" r="0.72" fill="#06142a" />
<circle cx="382.05" cy="214.98" r="0.72" fill="#06142a" />
<circle cx="382.97" cy="212.11" r="0.72" fill="#06142a" />
<circle cx="384.73" cy="201.81" r="0.72" fill="#06142a" />
<circle cx="387.54" cy="252.98" r="0.72" fill="#06142a" />
<circle cx="385.47" cy="188.90" r="0.72" fill="#06142a" />
<circle cx="383.59" cy="189.70" r="0.72" fill="#06142a" />
<circle cx="393.09" cy="252.78" r="0.72" fill="#06142a" />
<circle cx="398.55" cy="255.95" r="0.72" fill="#06142a" />
<circle cx="381.32" cy="208.55" r="0.72" fill="#06142a" />
<circle cx="385.62" cy="221.88" r="0.72" fill="#06142a" />
<circle cx="382.56" cy="205.51" r="0.72" fill="#06142a" />
<circle cx="378.76" cy="244.01" r="0.72" fill="#06142a" />
<circle cx="384.75" cy="233.03" r="0.72" fill="#06142a" />
<circle cx="355.28" cy="257.49" r="0.72" fill="#06142a" />
<circle cx="386.08" cy="202.11" r="0.72" fill="#06142a" />
<circle cx="373.34" cy="238.11" r="0.72" fill="#06142a" />
<circle cx="381.04" cy="198.24" r="0.72" fill="#06142a" />
<circle cx="390.11" cy="228.72" r="0.72" fill="#06142a" />
<circle cx="381.55" cy="204.36" r="0.72" fill="#06142a" />
<circle cx="381.69" cy="239.36" r="0.72" fill="#06142a" />
<circle cx="408.58" cy="251.36" r="0.72" fill="#06142a" />
<circle cx="396.85" cy="258.04" r="0.72" fill="#06142a" />
<circle cx="378.42" cy="225.22" r="0.72" fill="#06142a" />
<circle cx="379.38" cy="248.49" r="0.72" fill="#06142a" />
<circle cx="385.21" cy="222.78" r="0.72" fill="#06142a" />
<circle cx="387.22" cy="260.12" r="0.72" fill="#06142a" />
<circle cx="411.18" cy="256.67" r="0.72" fill="#06142a" />
<circle cx="382.26" cy="194.53" r="0.72" fill="#06142a" />
<circle cx="398.71" cy="254.48" r="0.72" fill="#06142a" />
<circle cx="364.70" cy="260.50" r="0.72" fill="#06142a" />
<circle cx="390.14" cy="227.82" r="0.72" fill="#06142a" />
<circle cx="386.42" cy="228.47" r="0.72" fill="#06142a" />
<circle cx="363.97" cy="260.93" r="0.72" fill="#06142a" />
<circle cx="387.53" cy="192.41" r="0.72" fill="#06142a" />
<circle cx="378.05" cy="231.55" r="0.72" fill="#06142a" />
<circle cx="373.51" cy="250.29" r="0.72" fill="#06142a" />
<circle cx="381.84" cy="197.88" r="0.72" fill="#06142a" />
<circle cx="382.84" cy="190.89" r="0.72" fill="#06142a" />
<circle cx="382.03" cy="246.36" r="0.72" fill="#06142a" />
<circle cx="355.82" cy="260.16" r="0.72" fill="#06142a" />
<circle cx="380.78" cy="201.11" r="0.72" fill="#06142a" />
<circle cx="378.22" cy="231.05" r="0.72" fill="#06142a" />
<circle cx="384.40" cy="237.98" r="0.72" fill="#06142a" />
<circle cx="390.41" cy="231.53" r="0.72" fill="#06142a" />
<circle cx="400.81" cy="247.12" r="0.72" fill="#06142a" />
<circle cx="382.71" cy="199.55" r="0.72" fill="#06142a" />
<circle cx="377.48" cy="259.85" r="0.72" fill="#06142a" />
<circle cx="383.67" cy="209.50" r="0.72" fill="#06142a" />
<circle cx="386.69" cy="201.69" r="0.72" fill="#06142a" />
<circle cx="374.29" cy="235.65" r="0.72" fill="#06142a" />
<circle cx="385.05" cy="260.13" r="0.72" fill="#06142a" />
<circle cx="384.60" cy="207.13" r="0.72" fill="#06142a" />
<circle cx="374.44" cy="259.04" r="0.72" fill="#06142a" />
<circle cx="380.98" cy="189.24" r="0.72" fill="#06142a" />
<circle cx="384.10" cy="192.58" r="0.72" fill="#06142a" />
<circle cx="386.31" cy="211.44" r="0.72" fill="#06142a" />
<circle cx="380.03" cy="203.58" r="0.72" fill="#06142a" />
<circle cx="379.75" cy="222.86" r="0.72" fill="#06142a" />
<circle cx="381.84" cy="211.36" r="0.72" fill="#06142a" />
<circle cx="384.94" cy="201.49" r="0.72" fill="#06142a" />
<circle cx="375.94" cy="258.04" r="0.72" fill="#06142a" />
<circle cx="379.62" cy="235.84" r="0.72" fill="#06142a" />
<text x="57.80" y="340.10" font-size="10.8" text-anchor="start" fill="#111" font-weight="bold" font-style="normal" >D</text>
<rect x="77.40" y="346.60" width="6.10" height="5.90" fill="#f6d22e" />
<text x="86.4" y="351.70" fill="#303030" font-size="6.25">P53_TAD<tspan font-size="3.95" fill="#a0a0a0" stroke="none" dx="3.4">P53 transactivation motif</tspan></text>
<rect x="77.40" y="353.67" width="6.10" height="5.90" fill="#e3b98c" />
<text x="86.4" y="358.77" fill="#303030" font-size="6.25">TAD2<tspan font-size="3.95" fill="#a0a0a0" stroke="none" dx="3.4">Transactivation domain 2</tspan></text>
<rect x="77.40" y="360.74" width="6.10" height="5.90" fill="#84aedb" />
<text x="86.4" y="365.84" fill="#303030" font-size="6.25">P53<tspan font-size="3.95" fill="#a0a0a0" stroke="none" dx="3.4">P53 DNA-binding domain</tspan></text>
<rect x="77.40" y="367.81" width="6.10" height="5.90" fill="#b9a9db" />
<text x="86.4" y="372.91" fill="#303030" font-size="6.25">other<tspan font-size="3.95" fill="#a0a0a0" stroke="none" dx="3.4">zinc binding site [ion binding]</tspan></text>
<rect x="77.40" y="374.88" width="6.10" height="5.90" fill="#e9736b" />
<text x="86.4" y="379.98" fill="#303030" font-size="6.25">other<tspan font-size="3.95" fill="#a0a0a0" stroke="none" dx="3.4">dimerization site [polypeptide binding]</tspan></text>
<rect x="77.40" y="381.95" width="6.10" height="5.90" fill="#7ec9c9" />
<text x="86.4" y="387.05" fill="#303030" font-size="6.25">DNA binding<tspan font-size="3.95" fill="#a0a0a0" stroke="none" dx="3.4">DNA binding site [nucleotide binding]</tspan></text>
<rect x="77.40" y="389.02" width="6.10" height="5.90" fill="#f3a65c" />
<text x="86.4" y="394.12" fill="#303030" font-size="6.25">NLS<tspan font-size="3.95" fill="#a0a0a0" stroke="none" dx="3.4">Nuclear localization signal</tspan></text>
<rect x="77.40" y="396.09" width="6.10" height="5.90" fill="#8cc354" />
<text x="86.4" y="401.19" fill="#303030" font-size="6.25">P53_tetramer<tspan font-size="3.95" fill="#a0a0a0" stroke="none" dx="3.4">P53 tetramerization motif</tspan></text>
<rect x="136.6" y="438.0" width="326.0" height="11.5" fill="#fff"/>
<rect x="141.00" y="438.00" width="19.90" height="11.50" fill="#f6d22e" />
<rect x="164.80" y="438.00" width="19.70" height="11.50" fill="#e0b88a" />
<rect x="225.30" y="438.00" width="95.50" height="11.50" fill="#7fb1dc" />
<rect x="320.80" y="438.00" width="12.20" height="11.50" fill="#7aa8cf" />
<rect x="333.00" y="438.00" width="18.50" height="11.50" fill="#86b8e0" />
<rect x="351.50" y="438.00" width="22.00" height="11.50" fill="#8cc2d6" />
<rect x="388.20" y="438.00" width="2.00" height="11.50" fill="#ecc890" />
<rect x="398.90" y="438.00" width="3.40" height="11.50" fill="#f2ad62" />
<rect x="402.30" y="438.00" width="6.70" height="11.50" fill="#9acc62" />
<rect x="409.00" y="438.00" width="1.40" height="11.50" fill="#72b042" />
<rect x="410.40" y="438.00" width="18.80" height="11.50" fill="#8ac852" />
<line x1="156.10" y1="438.00" x2="156.10" y2="449.50" stroke="#9a7a10" stroke-width="0.6" />
<line x1="162.80" y1="438.00" x2="162.80" y2="449.50" stroke="#c8a070" stroke-width="0.5" />
<line x1="238.90" y1="438.00" x2="238.90" y2="449.50" stroke="#4f7fae" stroke-width="0.6" />
<line x1="274.50" y1="438.00" x2="274.50" y2="449.50" stroke="#6a9ed6" stroke-width="1.5" />
<line x1="280.50" y1="438.00" x2="280.50" y2="449.50" stroke="#8a7ab0" stroke-width="0.6" />
<line x1="283.50" y1="438.00" x2="283.50" y2="449.50" stroke="#e28c8c" stroke-width="3.0" />
<line x1="286.60" y1="438.00" x2="286.60" y2="449.50" stroke="#a8cfee" stroke-width="0.6" />
<line x1="289.70" y1="438.00" x2="289.70" y2="449.50" stroke="#4f7fae" stroke-width="0.6" />
<line x1="320.80" y1="438.00" x2="320.80" y2="449.50" stroke="#4f7fae" stroke-width="0.6" />
<line x1="322.50" y1="438.00" x2="322.50" y2="449.50" stroke="#a0c6e6" stroke-width="0.5" />
<line x1="330.00" y1="438.00" x2="330.00" y2="449.50" stroke="#a0c6e6" stroke-width="0.5" />
<line x1="357.70" y1="438.00" x2="357.70" y2="449.50" stroke="#a8dcd8" stroke-width="1.0" />
<line x1="363.00" y1="438.00" x2="363.00" y2="449.50" stroke="#6fa0c8" stroke-width="0.8" />
<line x1="367.70" y1="438.00" x2="367.70" y2="449.50" stroke="#a8dcd8" stroke-width="1.0" />
<line x1="439.70" y1="438.00" x2="439.70" y2="449.50" stroke="#999" stroke-width="0.5" />
<rect x="136.6" y="438.0" width="326.0" height="11.5" fill="none" stroke="#222" stroke-width="1"/>
<text x="178.60" y="447.60" font-size="6.3" text-anchor="middle" fill="#222" font-weight="normal" font-style="normal" stroke="#222" stroke-width="0.13" >50</text>
<text x="218.30" y="447.60" font-size="6.3" text-anchor="middle" fill="#222" font-weight="normal" font-style="normal" stroke="#222" stroke-width="0.13" >100</text>
<text x="259.30" y="447.60" font-size="6.3" text-anchor="middle" fill="#222" font-weight="normal" font-style="normal" stroke="#222" stroke-width="0.13" >150</text>
<text x="302.00" y="447.60" font-size="6.3" text-anchor="middle" fill="#222" font-weight="normal" font-style="normal" stroke="#222" stroke-width="0.13" >200</text>
<text x="345.00" y="447.60" font-size="6.3" text-anchor="middle" fill="#222" font-weight="normal" font-style="normal" stroke="#222" stroke-width="0.13" >250</text>
<text x="382.20" y="447.60" font-size="6.3" text-anchor="middle" fill="#222" font-weight="normal" font-style="normal" stroke="#222" stroke-width="0.13" >300</text>
<text x="424.00" y="447.60" font-size="6.3" text-anchor="middle" fill="#222" font-weight="normal" font-style="normal" stroke="#222" stroke-width="0.13" >350</text>
<text x="132.40" y="441.60" font-size="6.3" text-anchor="end" fill="#333" font-weight="normal" font-style="normal" stroke="#333" stroke-width="0.13" >TP53</text>
<text x="132.40" y="450.40" font-size="6.3" text-anchor="end" fill="#333" font-weight="normal" font-style="normal" stroke="#333" stroke-width="0.13" >NM_000546</text>
<circle cx="169.90" cy="455.80" r="2.80" fill="#35a844" />
<text x="175.60" y="458.1" font-size="6.2" fill="#3aa84a">FRAMESHIFT,<tspan font-size="5.5"> n = 17</tspan></text>
<circle cx="242.60" cy="455.80" r="2.80" fill="#c8102e" />
<text x="248.30" y="458.1" font-size="6.2" fill="#c8102e">MISSENSE,<tspan font-size="5.5"> n = 135</tspan></text>
<circle cx="313.80" cy="455.80" r="2.80" fill="#1c4a88" />
<text x="319.50" y="458.1" font-size="6.2" fill="#1c4a88">SPLICE,<tspan font-size="5.5"> n = 14</tspan></text>
<circle cx="372.00" cy="455.80" r="2.80" fill="#f39a1e" />
<text x="377.70" y="458.1" font-size="6.2" fill="#f39a1e">NONSENSE,<tspan font-size="5.5"> n = 5</tspan></text>
<line x1="177.20" y1="430.10" x2="177.20" y2="433.40" stroke="#9cc89c" stroke-width="0.7" />
<line x1="183.50" y1="430.10" x2="183.50" y2="433.40" stroke="#9cc89c" stroke-width="0.7" />
<line x1="196.00" y1="430.10" x2="196.00" y2="433.40" stroke="#9cc89c" stroke-width="0.7" />
<line x1="200.20" y1="430.10" x2="200.20" y2="433.40" stroke="#e09aa4" stroke-width="0.7" />
<line x1="218.40" y1="430.10" x2="218.40" y2="433.40" stroke="#9cc89c" stroke-width="0.7" />
<line x1="222.50" y1="430.10" x2="222.50" y2="433.40" stroke="#e09aa4" stroke-width="0.7" />
<line x1="228.90" y1="429.30" x2="228.90" y2="433.40" stroke="#e09aa4" stroke-width="0.7" />
<line x1="233.70" y1="429.50" x2="233.70" y2="433.40" stroke="#9cc89c" stroke-width="0.7" />
<line x1="235.90" y1="429.50" x2="235.90" y2="433.40" stroke="#9cc89c" stroke-width="0.7" />
<line x1="238.00" y1="429.50" x2="238.00" y2="433.40" stroke="#98aac8" stroke-width="0.7" />
<line x1="240.20" y1="429.50" x2="240.20" y2="433.40" stroke="#98aac8" stroke-width="0.7" />
<line x1="244.80" y1="429.50" x2="244.80" y2="433.40" stroke="#e09aa4" stroke-width="0.7" />
<line x1="246.70" y1="429.50" x2="246.70" y2="433.40" stroke="#e09aa4" stroke-width="0.7" />
<line x1="249.10" y1="429.50" x2="249.10" y2="433.40" stroke="#e09aa4" stroke-width="0.7" />
<line x1="251.50" y1="429.50" x2="251.50" y2="433.40" stroke="#e09aa4" stroke-width="0.7" />
<line x1="254.40" y1="428.80" x2="254.40" y2="433.40" stroke="#e09aa4" stroke-width="0.7" />
<line x1="261.60" y1="429.50" x2="261.60" y2="433.40" stroke="#e09aa4" stroke-width="0.7" />
<line x1="264.00" y1="429.50" x2="264.00" y2="433.40" stroke="#e09aa4" stroke-width="0.7" />
<line x1="266.90" y1="429.50" x2="266.90" y2="433.40" stroke="#e09aa4" stroke-width="0.7" />
<line x1="271.20" y1="429.80" x2="271.20" y2="433.40" stroke="#e09aa4" stroke-width="0.7" />
<line x1="270.20" y1="426.30" x2="270.20" y2="433.40" stroke="#e09aa4" stroke-width="0.7" />
<line x1="282.00" y1="430.00" x2="282.00" y2="433.40" stroke="#e09aa4" stroke-width="0.7" />
<line x1="280.60" y1="425.50" x2="280.60" y2="433.40" stroke="#e09aa4" stroke-width="0.7" />
<line x1="283.90" y1="425.50" x2="283.90" y2="433.40" stroke="#e09aa4" stroke-width="0.7" />
<line x1="288.00" y1="431.00" x2="288.00" y2="433.40" stroke="#9cc89c" stroke-width="0.7" />
<line x1="289.70" y1="426.90" x2="289.70" y2="433.40" stroke="#98aac8" stroke-width="0.7" />
<line x1="294.50" y1="430.20" x2="294.50" y2="433.40" stroke="#e8c080" stroke-width="0.7" />
<line x1="295.20" y1="426.40" x2="295.20" y2="433.40" stroke="#e09aa4" stroke-width="0.7" />
<line x1="299.30" y1="430.30" x2="299.30" y2="433.40" stroke="#e09aa4" stroke-width="0.7" />
<line x1="300.80" y1="430.30" x2="300.80" y2="433.40" stroke="#e09aa4" stroke-width="0.7" />
<line x1="305.40" y1="430.30" x2="305.40" y2="433.40" stroke="#e09aa4" stroke-width="0.7" />
<line x1="316.50" y1="430.50" x2="316.50" y2="433.40" stroke="#9cc89c" stroke-width="0.7" />
<line x1="314.20" y1="427.40" x2="314.20" y2="433.40" stroke="#e09aa4" stroke-width="0.7" />
<line x1="315.80" y1="427.60" x2="315.80" y2="433.40" stroke="#e09aa4" stroke-width="0.7" />
<line x1="320.80" y1="430.20" x2="320.80" y2="433.40" stroke="#98aac8" stroke-width="0.7" />
<line x1="323.70" y1="430.20" x2="323.70" y2="433.40" stroke="#e8c080" stroke-width="0.7" />
<line x1="328.50" y1="430.20" x2="328.50" y2="433.40" stroke="#e09aa4" stroke-width="0.7" />
<line x1="334.20" y1="430.20" x2="334.20" y2="433.40" stroke="#e09aa4" stroke-width="0.7" />
<line x1="331.80" y1="424.00" x2="331.80" y2="433.40" stroke="#e09aa4" stroke-width="0.7" />
<line x1="331.80" y1="430.40" x2="331.80" y2="433.40" stroke="#9cc89c" stroke-width="0.7" />
<line x1="338.60" y1="430.50" x2="338.60" y2="433.40" stroke="#e09aa4" stroke-width="0.7" />
<line x1="341.40" y1="430.50" x2="341.40" y2="433.40" stroke="#e09aa4" stroke-width="0.7" />
<line x1="343.80" y1="430.50" x2="343.80" y2="433.40" stroke="#e09aa4" stroke-width="0.7" />
<line x1="338.60" y1="426.30" x2="338.60" y2="433.40" stroke="#e09aa4" stroke-width="0.7" />
<line x1="351.00" y1="427.30" x2="351.00" y2="433.40" stroke="#98aac8" stroke-width="0.7" />
<line x1="355.40" y1="430.50" x2="355.40" y2="433.40" stroke="#e09aa4" stroke-width="0.7" />
<line x1="356.30" y1="427.00" x2="356.30" y2="433.40" stroke="#e09aa4" stroke-width="0.7" />
<line x1="361.00" y1="430.50" x2="361.00" y2="433.40" stroke="#e09aa4" stroke-width="0.7" />
<line x1="364.60" y1="430.00" x2="364.60" y2="433.40" stroke="#e09aa4" stroke-width="0.7" />
<line x1="369.00" y1="430.00" x2="369.00" y2="433.40" stroke="#e09aa4" stroke-width="0.7" />
<line x1="372.30" y1="427.00" x2="372.30" y2="433.40" stroke="#e09aa4" stroke-width="0.7" />
<line x1="361.25" y1="424.70" x2="361.25" y2="433.40" stroke="#e09aa4" stroke-width="0.7" />
<line x1="362.10" y1="425.40" x2="362.10" y2="433.40" stroke="#e09aa4" stroke-width="0.7" />
<line x1="369.20" y1="421.80" x2="369.20" y2="433.40" stroke="#e09aa4" stroke-width="0.7" />
<line x1="388.70" y1="426.00" x2="388.70" y2="433.40" stroke="#e8c080" stroke-width="0.7" />
<line x1="418.50" y1="430.50" x2="418.50" y2="433.40" stroke="#e09aa4" stroke-width="0.7" />
<line x1="426.90" y1="430.50" x2="426.90" y2="433.40" stroke="#e09aa4" stroke-width="0.7" />
<line x1="177.20" y1="433.20" x2="177.20" y2="436.60" stroke="#b8b8bc" stroke-width="0.8" />
<line x1="183.50" y1="433.20" x2="183.50" y2="436.60" stroke="#b8b8bc" stroke-width="0.8" />
<line x1="196.00" y1="433.20" x2="196.00" y2="436.60" stroke="#b8b8bc" stroke-width="0.8" />
<line x1="200.20" y1="433.20" x2="200.20" y2="436.60" stroke="#b8b8bc" stroke-width="0.8" />
<line x1="218.40" y1="433.20" x2="218.40" y2="436.60" stroke="#b8b8bc" stroke-width="0.8" />
<line x1="222.50" y1="433.20" x2="222.50" y2="436.60" stroke="#b8b8bc" stroke-width="0.8" />
<line x1="228.90" y1="433.20" x2="228.90" y2="436.60" stroke="#b8b8bc" stroke-width="0.8" />
<line x1="233.70" y1="433.20" x2="233.70" y2="436.60" stroke="#b8b8bc" stroke-width="0.8" />
<line x1="235.90" y1="433.20" x2="235.90" y2="436.60" stroke="#b8b8bc" stroke-width="0.8" />
<line x1="238.00" y1="433.20" x2="238.00" y2="436.60" stroke="#b8b8bc" stroke-width="0.8" />
<line x1="240.20" y1="433.20" x2="240.20" y2="436.60" stroke="#b8b8bc" stroke-width="0.8" />
<line x1="244.80" y1="433.20" x2="244.80" y2="436.60" stroke="#b8b8bc" stroke-width="0.8" />
<line x1="246.70" y1="433.20" x2="246.70" y2="436.60" stroke="#b8b8bc" stroke-width="0.8" />
<line x1="249.10" y1="433.20" x2="249.10" y2="436.60" stroke="#b8b8bc" stroke-width="0.8" />
<line x1="251.50" y1="433.20" x2="251.50" y2="436.60" stroke="#b8b8bc" stroke-width="0.8" />
<line x1="254.40" y1="433.20" x2="254.40" y2="436.60" stroke="#b8b8bc" stroke-width="0.8" />
<line x1="261.60" y1="433.20" x2="261.60" y2="436.60" stroke="#b8b8bc" stroke-width="0.8" />
<line x1="264.00" y1="433.20" x2="264.00" y2="436.60" stroke="#b8b8bc" stroke-width="0.8" />
<line x1="266.90" y1="433.20" x2="266.90" y2="436.60" stroke="#b8b8bc" stroke-width="0.8" />
<line x1="271.20" y1="433.20" x2="271.20" y2="436.60" stroke="#b8b8bc" stroke-width="0.8" />
<line x1="270.20" y1="433.20" x2="270.20" y2="436.60" stroke="#b8b8bc" stroke-width="0.8" />
<line x1="282.00" y1="433.20" x2="282.00" y2="436.60" stroke="#b8b8bc" stroke-width="0.8" />
<line x1="280.60" y1="433.20" x2="280.60" y2="436.60" stroke="#b8b8bc" stroke-width="0.8" />
<line x1="283.90" y1="433.20" x2="283.90" y2="436.60" stroke="#b8b8bc" stroke-width="0.8" />
<line x1="288.00" y1="433.20" x2="288.00" y2="436.60" stroke="#b8b8bc" stroke-width="0.8" />
<line x1="289.70" y1="433.20" x2="289.70" y2="436.60" stroke="#b8b8bc" stroke-width="0.8" />
<line x1="294.50" y1="433.20" x2="294.50" y2="436.60" stroke="#b8b8bc" stroke-width="0.8" />
<line x1="295.20" y1="433.20" x2="295.20" y2="436.60" stroke="#b8b8bc" stroke-width="0.8" />
<line x1="299.30" y1="433.20" x2="299.30" y2="436.60" stroke="#b8b8bc" stroke-width="0.8" />
<line x1="300.80" y1="433.20" x2="300.80" y2="436.60" stroke="#b8b8bc" stroke-width="0.8" />
<line x1="305.40" y1="433.20" x2="305.40" y2="436.60" stroke="#b8b8bc" stroke-width="0.8" />
<line x1="316.50" y1="433.20" x2="316.50" y2="436.60" stroke="#b8b8bc" stroke-width="0.8" />
<line x1="314.20" y1="433.20" x2="314.20" y2="436.60" stroke="#b8b8bc" stroke-width="0.8" />
<line x1="315.80" y1="433.20" x2="315.80" y2="436.60" stroke="#b8b8bc" stroke-width="0.8" />
<line x1="320.80" y1="433.20" x2="320.80" y2="436.60" stroke="#b8b8bc" stroke-width="0.8" />
<line x1="323.70" y1="433.20" x2="323.70" y2="436.60" stroke="#b8b8bc" stroke-width="0.8" />
<line x1="328.50" y1="433.20" x2="328.50" y2="436.60" stroke="#b8b8bc" stroke-width="0.8" />
<line x1="334.20" y1="433.20" x2="334.20" y2="436.60" stroke="#b8b8bc" stroke-width="0.8" />
<line x1="331.80" y1="433.20" x2="331.80" y2="436.60" stroke="#b8b8bc" stroke-width="0.8" />
<line x1="331.80" y1="433.20" x2="331.80" y2="436.60" stroke="#b8b8bc" stroke-width="0.8" />
<line x1="338.60" y1="433.20" x2="338.60" y2="436.60" stroke="#b8b8bc" stroke-width="0.8" />
<line x1="341.40" y1="433.20" x2="341.40" y2="436.60" stroke="#b8b8bc" stroke-width="0.8" />
<line x1="343.80" y1="433.20" x2="343.80" y2="436.60" stroke="#b8b8bc" stroke-width="0.8" />
<line x1="338.60" y1="433.20" x2="338.60" y2="436.60" stroke="#b8b8bc" stroke-width="0.8" />
<line x1="351.00" y1="433.20" x2="351.00" y2="436.60" stroke="#b8b8bc" stroke-width="0.8" />
<line x1="355.40" y1="433.20" x2="355.40" y2="436.60" stroke="#b8b8bc" stroke-width="0.8" />
<line x1="356.30" y1="433.20" x2="356.30" y2="436.60" stroke="#b8b8bc" stroke-width="0.8" />
<line x1="361.00" y1="433.20" x2="361.00" y2="436.60" stroke="#b8b8bc" stroke-width="0.8" />
<line x1="364.60" y1="433.20" x2="364.60" y2="436.60" stroke="#b8b8bc" stroke-width="0.8" />
<line x1="369.00" y1="433.20" x2="369.00" y2="436.60" stroke="#b8b8bc" stroke-width="0.8" />
<line x1="372.30" y1="433.20" x2="372.30" y2="436.60" stroke="#b8b8bc" stroke-width="0.8" />
<line x1="361.25" y1="433.20" x2="361.25" y2="436.60" stroke="#b8b8bc" stroke-width="0.8" />
<line x1="362.10" y1="433.20" x2="362.10" y2="436.60" stroke="#b8b8bc" stroke-width="0.8" />
<line x1="369.20" y1="433.20" x2="369.20" y2="436.60" stroke="#b8b8bc" stroke-width="0.8" />
<line x1="388.70" y1="433.20" x2="388.70" y2="436.60" stroke="#b8b8bc" stroke-width="0.8" />
<line x1="418.50" y1="433.20" x2="418.50" y2="436.60" stroke="#b8b8bc" stroke-width="0.8" />
<line x1="426.90" y1="433.20" x2="426.90" y2="436.60" stroke="#b8b8bc" stroke-width="0.8" />
<circle cx="369.20" cy="421.80" r="4.75" fill="#f6d8dc" />
<circle cx="369.20" cy="421.80" r="4.50" fill="#c8102e" stroke="#7a0a18" stroke-width="0.35"/>
<circle cx="369.20" cy="421.80" r="2.48" fill="none" stroke="#7a0a18" stroke-width="0.4" stroke-opacity="0.7"/>
<circle cx="331.80" cy="424.00" r="4.45" fill="#f6d8dc" />
<circle cx="331.80" cy="424.00" r="4.20" fill="#c8102e" stroke="#7a0a18" stroke-width="0.35"/>
<circle cx="331.80" cy="424.00" r="2.31" fill="none" stroke="#7a0a18" stroke-width="0.4" stroke-opacity="0.7"/>
<circle cx="280.60" cy="425.50" r="3.05" fill="#f6d8dc" />
<circle cx="280.60" cy="425.50" r="2.80" fill="#c8102e" stroke="#7a0a18" stroke-width="0.35"/>
<circle cx="280.60" cy="425.50" r="1.54" fill="none" stroke="#7a0a18" stroke-width="0.4" stroke-opacity="0.7"/>
<circle cx="283.90" cy="425.50" r="3.05" fill="#f6d8dc" />
<circle cx="283.90" cy="425.50" r="2.80" fill="#c8102e" stroke="#7a0a18" stroke-width="0.35"/>
<circle cx="283.90" cy="425.50" r="1.54" fill="none" stroke="#7a0a18" stroke-width="0.4" stroke-opacity="0.7"/>
<circle cx="338.60" cy="426.30" r="3.05" fill="#f6d8dc" />
<circle cx="338.60" cy="426.30" r="2.80" fill="#c8102e" stroke="#7a0a18" stroke-width="0.35"/>
<circle cx="338.60" cy="426.30" r="1.54" fill="none" stroke="#7a0a18" stroke-width="0.4" stroke-opacity="0.7"/>
<circle cx="388.70" cy="426.00" r="2.95" fill="#e8eef4" />
<circle cx="388.70" cy="426.00" r="2.70" fill="#f39a1e" stroke="#a06010" stroke-width="0.35"/>
<circle cx="388.70" cy="426.00" r="1.49" fill="none" stroke="#a06010" stroke-width="0.4" stroke-opacity="0.7"/>
<circle cx="289.70" cy="426.90" r="2.85" fill="#e8eef4" />
<circle cx="289.70" cy="426.90" r="2.60" fill="#1c4a88" stroke="#123060" stroke-width="0.35"/>
<circle cx="289.70" cy="426.90" r="1.43" fill="none" stroke="#123060" stroke-width="0.4" stroke-opacity="0.7"/>
<circle cx="295.20" cy="426.40" r="2.75" fill="#f6d8dc" />
<circle cx="295.20" cy="426.40" r="2.50" fill="#c8102e" stroke="#7a0a18" stroke-width="0.35"/>
<circle cx="295.20" cy="426.40" r="1.38" fill="none" stroke="#7a0a18" stroke-width="0.4" stroke-opacity="0.7"/>
<circle cx="314.20" cy="427.40" r="2.75" fill="#f6d8dc" />
<circle cx="314.20" cy="427.40" r="2.50" fill="#c8102e" stroke="#7a0a18" stroke-width="0.35"/>
<circle cx="314.20" cy="427.40" r="1.38" fill="none" stroke="#7a0a18" stroke-width="0.4" stroke-opacity="0.7"/>
<circle cx="351.00" cy="427.30" r="2.75" fill="#e8eef4" />
<circle cx="351.00" cy="427.30" r="2.50" fill="#1c4a88" stroke="#123060" stroke-width="0.35"/>
<circle cx="351.00" cy="427.30" r="1.38" fill="none" stroke="#123060" stroke-width="0.4" stroke-opacity="0.7"/>
<circle cx="361.25" cy="424.70" r="2.65" fill="#f6d8dc" />
<circle cx="361.25" cy="424.70" r="2.40" fill="#c8102e" stroke="#7a0a18" stroke-width="0.35"/>
<circle cx="361.25" cy="424.70" r="1.32" fill="none" stroke="#7a0a18" stroke-width="0.4" stroke-opacity="0.7"/>
<circle cx="362.10" cy="425.40" r="2.65" fill="#f6d8dc" />
<circle cx="362.10" cy="425.40" r="2.40" fill="#c8102e" stroke="#7a0a18" stroke-width="0.35"/>
<circle cx="362.10" cy="425.40" r="1.32" fill="none" stroke="#7a0a18" stroke-width="0.4" stroke-opacity="0.7"/>
<circle cx="356.30" cy="427.00" r="2.55" fill="#f6d8dc" />
<circle cx="356.30" cy="427.00" r="2.30" fill="#c8102e" stroke="#7a0a18" stroke-width="0.35"/>
<circle cx="270.20" cy="426.30" r="2.45" fill="#f6d8dc" />
<circle cx="270.20" cy="426.30" r="2.20" fill="#c8102e" stroke="#7a0a18" stroke-width="0.35"/>
<circle cx="315.80" cy="427.60" r="2.35" fill="#f6d8dc" />
<circle cx="315.80" cy="427.60" r="2.10" fill="#c8102e" stroke="#7a0a18" stroke-width="0.35"/>
<circle cx="372.30" cy="427.00" r="2.25" fill="#f6d8dc" />
<circle cx="372.30" cy="427.00" r="2.00" fill="#c8102e" stroke="#7a0a18" stroke-width="0.35"/>
<circle cx="364.60" cy="430.00" r="2.05" fill="#f6d8dc" />
<circle cx="364.60" cy="430.00" r="1.80" fill="#c8102e" stroke="#7a0a18" stroke-width="0.35"/>
<circle cx="369.00" cy="430.00" r="2.05" fill="#f6d8dc" />
<circle cx="369.00" cy="430.00" r="1.80" fill="#c8102e" stroke="#7a0a18" stroke-width="0.35"/>
<circle cx="418.50" cy="430.50" r="2.05" fill="#f6d8dc" />
<circle cx="418.50" cy="430.50" r="1.80" fill="#c8102e" stroke="#7a0a18" stroke-width="0.35"/>
<circle cx="426.90" cy="430.50" r="2.05" fill="#f6d8dc" />
<circle cx="426.90" cy="430.50" r="1.80" fill="#c8102e" stroke="#7a0a18" stroke-width="0.35"/>
<circle cx="341.40" cy="430.50" r="1.95" fill="#f6d8dc" />
<circle cx="341.40" cy="430.50" r="1.70" fill="#c8102e" stroke="#7a0a18" stroke-width="0.35"/>
<circle cx="343.80" cy="430.50" r="1.95" fill="#f6d8dc" />
<circle cx="343.80" cy="430.50" r="1.70" fill="#c8102e" stroke="#7a0a18" stroke-width="0.35"/>
<circle cx="331.80" cy="430.40" r="1.85" fill="#e8eef4" />
<circle cx="331.80" cy="430.40" r="1.60" fill="#35a844" stroke="#1f6a28" stroke-width="0.35"/>
<circle cx="338.60" cy="430.50" r="1.85" fill="#f6d8dc" />
<circle cx="338.60" cy="430.50" r="1.60" fill="#c8102e" stroke="#7a0a18" stroke-width="0.35"/>
<circle cx="355.40" cy="430.50" r="1.85" fill="#f6d8dc" />
<circle cx="355.40" cy="430.50" r="1.60" fill="#c8102e" stroke="#7a0a18" stroke-width="0.35"/>
<circle cx="361.00" cy="430.50" r="1.85" fill="#f6d8dc" />
<circle cx="361.00" cy="430.50" r="1.60" fill="#c8102e" stroke="#7a0a18" stroke-width="0.35"/>
<circle cx="228.90" cy="429.30" r="1.75" fill="#e8eef4" />
<circle cx="228.90" cy="429.30" r="1.50" fill="#9a0a24" stroke="#7a0a18" stroke-width="0.35"/>
<circle cx="299.30" cy="430.30" r="1.75" fill="#f6d8dc" />
<circle cx="299.30" cy="430.30" r="1.50" fill="#c8102e" stroke="#7a0a18" stroke-width="0.35"/>
<circle cx="300.80" cy="430.30" r="1.75" fill="#f6d8dc" />
<circle cx="300.80" cy="430.30" r="1.50" fill="#c8102e" stroke="#7a0a18" stroke-width="0.35"/>
<circle cx="305.40" cy="430.30" r="1.75" fill="#f6d8dc" />
<circle cx="305.40" cy="430.30" r="1.50" fill="#c8102e" stroke="#7a0a18" stroke-width="0.35"/>
<circle cx="320.80" cy="430.20" r="1.75" fill="#e8eef4" />
<circle cx="320.80" cy="430.20" r="1.50" fill="#1c4a88" stroke="#123060" stroke-width="0.35"/>
<circle cx="323.70" cy="430.20" r="1.75" fill="#e8eef4" />
<circle cx="323.70" cy="430.20" r="1.50" fill="#f39a1e" stroke="#a06010" stroke-width="0.35"/>
<circle cx="328.50" cy="430.20" r="1.75" fill="#f6d8dc" />
<circle cx="328.50" cy="430.20" r="1.50" fill="#c8102e" stroke="#7a0a18" stroke-width="0.35"/>
<circle cx="334.20" cy="430.20" r="1.75" fill="#f6d8dc" />
<circle cx="334.20" cy="430.20" r="1.50" fill="#c8102e" stroke="#7a0a18" stroke-width="0.35"/>
<circle cx="177.20" cy="430.10" r="1.65" fill="#e8eef4" />
<circle cx="177.20" cy="430.10" r="1.40" fill="#35a844" stroke="#1f6a28" stroke-width="0.35"/>
<circle cx="183.50" cy="430.10" r="1.65" fill="#e8eef4" />
<circle cx="183.50" cy="430.10" r="1.40" fill="#35a844" stroke="#1f6a28" stroke-width="0.35"/>
<circle cx="196.00" cy="430.10" r="1.65" fill="#e8eef4" />
<circle cx="196.00" cy="430.10" r="1.40" fill="#35a844" stroke="#1f6a28" stroke-width="0.35"/>
<circle cx="200.20" cy="430.10" r="1.65" fill="#f6d8dc" />
<circle cx="200.20" cy="430.10" r="1.40" fill="#c8102e" stroke="#7a0a18" stroke-width="0.35"/>
<circle cx="218.40" cy="430.10" r="1.65" fill="#e8eef4" />
<circle cx="218.40" cy="430.10" r="1.40" fill="#35a844" stroke="#1f6a28" stroke-width="0.35"/>
<circle cx="222.50" cy="430.10" r="1.65" fill="#f6d8dc" />
<circle cx="222.50" cy="430.10" r="1.40" fill="#c8102e" stroke="#7a0a18" stroke-width="0.35"/>
<circle cx="233.70" cy="429.50" r="1.65" fill="#e8eef4" />
<circle cx="233.70" cy="429.50" r="1.40" fill="#35a844" stroke="#1f6a28" stroke-width="0.35"/>
<circle cx="235.90" cy="429.50" r="1.65" fill="#e8eef4" />
<circle cx="235.90" cy="429.50" r="1.40" fill="#35a844" stroke="#1f6a28" stroke-width="0.35"/>
<circle cx="238.00" cy="429.50" r="1.65" fill="#e8eef4" />
<circle cx="238.00" cy="429.50" r="1.40" fill="#1a5a6a" stroke="#a06010" stroke-width="0.35"/>
<circle cx="240.20" cy="429.50" r="1.65" fill="#e8eef4" />
<circle cx="240.20" cy="429.50" r="1.40" fill="#1c4a88" stroke="#123060" stroke-width="0.35"/>
<circle cx="244.80" cy="429.50" r="1.65" fill="#f6d8dc" />
<circle cx="244.80" cy="429.50" r="1.40" fill="#c8102e" stroke="#7a0a18" stroke-width="0.35"/>
<circle cx="246.70" cy="429.50" r="1.65" fill="#f6d8dc" />
<circle cx="246.70" cy="429.50" r="1.40" fill="#c8102e" stroke="#7a0a18" stroke-width="0.35"/>
<circle cx="249.10" cy="429.50" r="1.65" fill="#f6d8dc" />
<circle cx="249.10" cy="429.50" r="1.40" fill="#c8102e" stroke="#7a0a18" stroke-width="0.35"/>
<circle cx="251.50" cy="429.50" r="1.65" fill="#f6d8dc" />
<circle cx="251.50" cy="429.50" r="1.40" fill="#c8102e" stroke="#7a0a18" stroke-width="0.35"/>
<circle cx="254.40" cy="428.80" r="1.65" fill="#e8eef4" />
<circle cx="254.40" cy="428.80" r="1.40" fill="#6ab030" stroke="#a06010" stroke-width="0.35"/>
<circle cx="261.60" cy="429.50" r="1.65" fill="#f6d8dc" />
<circle cx="261.60" cy="429.50" r="1.40" fill="#d04060" stroke="#7a0a18" stroke-width="0.35"/>
<circle cx="264.00" cy="429.50" r="1.65" fill="#f6d8dc" />
<circle cx="264.00" cy="429.50" r="1.40" fill="#c8102e" stroke="#7a0a18" stroke-width="0.35"/>
<circle cx="266.90" cy="429.50" r="1.65" fill="#f6d8dc" />
<circle cx="266.90" cy="429.50" r="1.40" fill="#c8102e" stroke="#7a0a18" stroke-width="0.35"/>
<circle cx="271.20" cy="429.80" r="1.65" fill="#f6d8dc" />
<circle cx="271.20" cy="429.80" r="1.40" fill="#c8102e" stroke="#7a0a18" stroke-width="0.35"/>
<circle cx="282.00" cy="430.00" r="1.65" fill="#f6d8dc" />
<circle cx="282.00" cy="430.00" r="1.40" fill="#c8102e" stroke="#7a0a18" stroke-width="0.35"/>
<circle cx="294.50" cy="430.20" r="1.55" fill="#e8eef4" />
<circle cx="294.50" cy="430.20" r="1.30" fill="#f39a1e" stroke="#a06010" stroke-width="0.35"/>
<circle cx="316.50" cy="430.50" r="1.55" fill="#e8eef4" />
<circle cx="316.50" cy="430.50" r="1.30" fill="#35a844" stroke="#1f6a28" stroke-width="0.35"/>
<circle cx="288.00" cy="431.00" r="1.45" fill="#e8eef4" />
<circle cx="288.00" cy="431.00" r="1.20" fill="#35a844" stroke="#1f6a28" stroke-width="0.35"/>
<circle cx="356.30" cy="427.00" r="0.90" fill="#35a844" />
<circle cx="331.80" cy="430.40" r="1.00" fill="#35a844" />
<line x1="388.70" y1="428.70" x2="388.70" y2="437.00" stroke="#8aa2c6" stroke-width="0.8" />
<line x1="238.70" y1="393.50" x2="238.70" y2="428.50" stroke="#9db3d3" stroke-width="1.4" />
<circle cx="238.70" cy="388.10" r="5.40" fill="#1c4a88" stroke="#0e2c58" stroke-width="0.5"/>
<text x="238.70" y="390.10" font-size="5.6" text-anchor="middle" fill="#ffeef0" font-weight="normal" font-style="normal" stroke="#ffeef0" stroke-width="0.05" >6</text>
<text x="245.80" y="390.30" font-size="6.2" text-anchor="start" fill="#52607a" font-weight="normal" font-style="normal" stroke="#52607a" stroke-width="0.13" >p.?</text>
<line x1="280.30" y1="393.40" x2="280.30" y2="424.50" stroke="#cf7a88" stroke-width="0.9" />
<circle cx="280.30" cy="388.20" r="5.20" fill="#c8102e" stroke="#8a0a1e" stroke-width="0.5"/>
<text x="280.30" y="390.20" font-size="5.6" text-anchor="middle" fill="#ffeef0" font-weight="normal" font-style="normal" stroke="#ffeef0" stroke-width="0.05" >9</text>
<line x1="317.50" y1="393.50" x2="317.50" y2="426.00" stroke="#cf7a88" stroke-width="0.9" />
<circle cx="317.50" cy="388.20" r="5.30" fill="#c8102e" stroke="#8a0a1e" stroke-width="0.5"/>
<text x="317.50" y="390.20" font-size="5.6" text-anchor="middle" fill="#ffeef0" font-weight="normal" font-style="normal" stroke="#ffeef0" stroke-width="0.05" >10</text>
<line x1="340.60" y1="393.10" x2="340.60" y2="425.00" stroke="#cf7a88" stroke-width="0.9" />
<circle cx="340.60" cy="388.10" r="5.00" fill="#c8102e" stroke="#8a0a1e" stroke-width="0.5"/>
<text x="340.60" y="390.10" font-size="5.6" text-anchor="middle" fill="#ffeef0" font-weight="normal" font-style="normal" stroke="#ffeef0" stroke-width="0.05" >5</text>
<circle cx="340.50" cy="378.00" r="3.80" fill="#a8102a" />
<text x="340.50" y="379.70" font-size="4.8" text-anchor="middle" fill="#fff" font-weight="normal" font-style="normal" stroke="#fff" stroke-width="0.1" >3</text>
<circle cx="340.50" cy="369.90" r="1.50" fill="#a8102a" />
<path d="M391.6,393.4 L391.6,396 L361.25,411.25 L361.25,422" fill="none" stroke="#7a3a48" stroke-width="0.8"/>
<circle cx="391.60" cy="388.20" r="5.40" fill="#c8102e" stroke="#8a0a1e" stroke-width="0.5"/>
<text x="391.60" y="390.20" font-size="5.6" text-anchor="middle" fill="#ffeef0" font-weight="normal" font-style="normal" stroke="#ffeef0" stroke-width="0.05" >10</text>
<circle cx="391.90" cy="378.10" r="3.00" fill="#8a0a20" />
<text x="391.90" y="379.60" font-size="4.0" text-anchor="middle" fill="#fff" font-weight="normal" font-style="normal" stroke="#fff" stroke-width="0.1" >2</text>
<circle cx="391.90" cy="370.80" r="1.60" fill="#8a0a20" />
<circle cx="391.90" cy="363.80" r="1.60" fill="#8a0a20" />
<circle cx="391.90" cy="356.10" r="1.45" fill="#35a844" />
<text x="349.20" y="372.10" font-size="6.2" text-anchor="start" fill="#b4203c" font-weight="normal" font-style="normal" stroke="#b4203c" stroke-width="0.03" >p.Arg248Pro</text>
<text x="349.20" y="380.70" font-size="6.2" text-anchor="start" fill="#b4203c" font-weight="normal" font-style="normal" stroke="#b4203c" stroke-width="0.03" >p.Arg248Gln</text>
<text x="349.20" y="390.20" font-size="6.2" text-anchor="start" fill="#b4203c" font-weight="normal" font-style="normal" stroke="#b4203c" stroke-width="0.03" >p.Arg248Trp</text>
<text x="398.80" y="358.30" font-size="6.2" text-anchor="start" fill="#3aa84a" font-weight="normal" font-style="normal" stroke="#3aa84a" stroke-width="0.03" >p.Arg273fs*72</text>
<text x="398.80" y="366.00" font-size="6.2" text-anchor="start" fill="#b4203c" font-weight="normal" font-style="normal" stroke="#b4203c" stroke-width="0.03" >p.Arg273Gly</text>
<text x="398.80" y="373.00" font-size="6.2" text-anchor="start" fill="#b4203c" font-weight="normal" font-style="normal" stroke="#b4203c" stroke-width="0.03" >p.Arg273Cys</text>
<text x="398.80" y="380.30" font-size="6.2" text-anchor="start" fill="#b4203c" font-weight="normal" font-style="normal" stroke="#b4203c" stroke-width="0.03" >p. Arg273Leu</text>
<text x="398.80" y="390.00" font-size="6.2" text-anchor="start" fill="#b4203c" font-weight="normal" font-style="normal" stroke="#b4203c" stroke-width="0.03" >p.Arg273His</text>
<text x="0.00" y="0.00" font-size="6.1" text-anchor="start" fill="#b4203c" font-weight="normal" font-style="normal" stroke="#b4203c" stroke-width="0.03" transform="translate(282.9,380) rotate(-90)">p.Arg175His</text>
<text x="0.00" y="0.00" font-size="6.1" text-anchor="start" fill="#b4203c" font-weight="normal" font-style="normal" stroke="#b4203c" stroke-width="0.03" transform="translate(321.3,380) rotate(-90)">p.Tyr220Cys</text>
</svg></body></html>
